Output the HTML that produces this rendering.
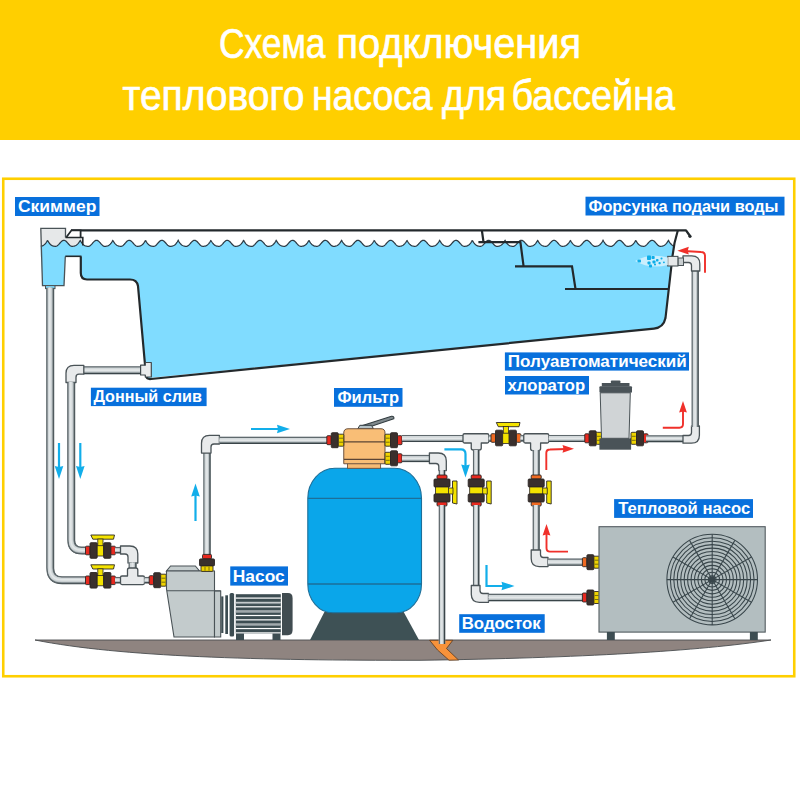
<!DOCTYPE html>
<html><head><meta charset="utf-8"><style>
html,body{margin:0;padding:0;background:#fff;width:800px;height:801px;overflow:hidden}
svg{display:block}
</style></head><body>
<svg width="800" height="801" viewBox="0 0 800 801"><rect x="0" y="0" width="800" height="140" fill="#ffcf00"/>
<text x="219.00" y="57.5" font-family="Liberation Sans" font-size="42" fill="#fff" stroke="#fff" stroke-width="0.7" textLength="106.52" lengthAdjust="spacingAndGlyphs">Схема</text><text x="336.50" y="57.5" font-family="Liberation Sans" font-size="42" fill="#fff" stroke="#fff" stroke-width="0.7" textLength="244.60" lengthAdjust="spacingAndGlyphs">подключения</text><text x="122.50" y="110" font-family="Liberation Sans" font-size="42" fill="#fff" stroke="#fff" stroke-width="0.7" textLength="182.02" lengthAdjust="spacingAndGlyphs">теплового</text><text x="312.00" y="110" font-family="Liberation Sans" font-size="42" fill="#fff" stroke="#fff" stroke-width="0.7" textLength="120.56" lengthAdjust="spacingAndGlyphs">насоса</text><text x="442.00" y="110" font-family="Liberation Sans" font-size="42" fill="#fff" stroke="#fff" stroke-width="0.7" textLength="64.11" lengthAdjust="spacingAndGlyphs">для</text><text x="511.50" y="110" font-family="Liberation Sans" font-size="42" fill="#fff" stroke="#fff" stroke-width="0.7" textLength="163.53" lengthAdjust="spacingAndGlyphs">бассейна</text>
<rect x="3.25" y="178.75" width="791" height="497.5" fill="none" stroke="#ffcf00" stroke-width="2.6"/>
<path d="M35,640 L771,640 C700,651 580,658 420,660.3 C260,660.5 120,657 35,640 Z" fill="#8f8480" stroke="#4a4d4f" stroke-width="0.9"/>
<path d="M40.80,246.23 L41.30,246.15 L41.80,246.03 L42.30,245.87 L42.80,245.65 L43.30,245.38 L43.80,245.05 L44.30,244.65 L44.80,244.19 L45.30,243.65 L45.80,243.03 L46.30,242.33 L46.80,241.55 L47.30,240.68 L47.80,240.85 L48.30,241.70 L48.80,242.47 L49.30,243.15 L49.80,243.76 L50.30,244.28 L50.80,244.73 L51.30,245.12 L51.79,245.44 L52.29,245.70 L52.79,245.90 L53.29,246.06 L53.79,246.17 L54.29,246.24 L54.79,246.28 L55.29,246.30 L55.79,246.30 L56.29,246.21 L56.79,246.02 L57.29,245.74 L57.79,245.36 L58.29,244.90 L58.79,244.39 L59.29,243.83 L59.79,243.26 L60.29,242.69 L60.79,242.14 L61.29,241.63 L61.79,241.18 L62.29,240.82 L62.79,240.54 L63.29,240.37 L63.79,240.30 L64.29,240.34 L64.79,240.50 L65.29,240.75 L65.79,241.10 L66.29,241.53 L66.79,242.03 L67.29,242.57 L67.79,243.14 L68.29,243.72 L68.79,244.28 L69.29,244.80 L69.79,245.27 L70.29,245.66 L70.79,245.97 L71.29,246.18 L71.79,246.29 L72.29,246.30 L72.78,246.29 L73.28,246.25 L73.78,246.19 L74.28,246.08 L74.78,245.94 L75.28,245.74 L75.78,245.49 L76.28,245.19 L76.78,244.82 L77.28,244.38 L77.78,243.87 L78.28,243.28 L78.78,242.62 L79.28,241.87 L79.78,241.03 L80.28,240.49 L80.78,241.38 L81.28,242.18 L81.78,242.90 L82.28,243.53 L82.78,244.08 L83.28,244.56 L83.78,244.97 L84.28,245.32 L84.78,245.60 L85.28,245.83 L85.78,246.00 L86.28,246.13 L86.78,246.22 L87.28,246.27 L87.78,246.29 L88.28,246.30 L88.78,246.26 L89.28,246.11 L89.78,245.86 L90.28,245.51 L90.78,245.09 L91.28,244.59 L91.78,244.05 L92.28,243.48 L92.78,242.91 L93.28,242.35 L93.77,241.82 L94.27,241.35 L94.77,240.95 L95.27,240.64 L95.77,240.42 L96.27,240.31 L96.77,240.31 L97.27,240.42 L97.77,240.64 L98.27,240.96 L98.77,241.36 L99.27,241.83 L99.77,242.36 L100.27,242.92 L100.77,243.49 L101.27,244.06 L101.77,244.60 L102.27,245.09 L102.77,245.52 L103.27,245.86 L103.77,246.11 L104.27,246.26 L104.77,246.30 L105.27,246.29 L105.77,246.27 L106.27,246.22 L106.77,246.13 L107.27,246.00 L107.77,245.83 L108.27,245.60 L108.77,245.31 L109.27,244.97 L109.77,244.56 L110.27,244.08 L110.77,243.52 L111.27,242.89 L111.77,242.17 L112.27,241.37 L112.77,240.48 L113.27,241.04 L113.77,241.88 L114.27,242.63 L114.76,243.29 L115.26,243.88 L115.76,244.39 L116.26,244.82 L116.76,245.19 L117.26,245.50 L117.76,245.75 L118.26,245.94 L118.76,246.09 L119.26,246.19 L119.76,246.25 L120.26,246.29 L120.76,246.30 L121.26,246.29 L121.76,246.18 L122.26,245.97 L122.76,245.66 L123.26,245.26 L123.76,244.79 L124.26,244.27 L124.76,243.71 L125.26,243.13 L125.76,242.56 L126.26,242.02 L126.76,241.53 L127.26,241.10 L127.76,240.75 L128.26,240.49 L128.76,240.34 L129.26,240.30 L129.76,240.37 L130.26,240.54 L130.76,240.82 L131.26,241.19 L131.76,241.64 L132.26,242.14 L132.76,242.69 L133.26,243.27 L133.76,243.84 L134.26,244.39 L134.76,244.91 L135.26,245.36 L135.76,245.74 L136.25,246.03 L136.75,246.22 L137.25,246.30 L137.75,246.30 L138.25,246.28 L138.75,246.24 L139.25,246.17 L139.75,246.06 L140.25,245.90 L140.75,245.69 L141.25,245.43 L141.75,245.11 L142.25,244.73 L142.75,244.27 L143.25,243.75 L143.75,243.14 L144.25,242.46 L144.75,241.69 L145.25,240.84 L145.75,240.69 L146.25,241.56 L146.75,242.34 L147.25,243.04 L147.75,243.66 L148.25,244.19 L148.75,244.66 L149.25,245.06 L149.75,245.39 L150.25,245.66 L150.75,245.87 L151.25,246.03 L151.75,246.15 L152.25,246.23 L152.75,246.28 L153.25,246.30 L153.75,246.30 L154.25,246.24 L154.75,246.07 L155.25,245.79 L155.75,245.43 L156.25,244.98 L156.75,244.48 L157.24,243.93 L157.74,243.36 L158.24,242.78 L158.74,242.23 L159.24,241.71 L159.74,241.26 L160.24,240.87 L160.74,240.58 L161.24,240.39 L161.74,240.30 L162.24,240.33 L162.74,240.46 L163.24,240.70 L163.74,241.04 L164.24,241.45 L164.74,241.94 L165.24,242.48 L165.74,243.04 L166.24,243.62 L166.74,244.18 L167.24,244.71 L167.74,245.19 L168.24,245.60 L168.74,245.93 L169.24,246.16 L169.74,246.28 L170.24,246.30 L170.74,246.29 L171.24,246.26 L171.74,246.20 L172.24,246.10 L172.74,245.97 L173.24,245.78 L173.74,245.54 L174.24,245.24 L174.74,244.89 L175.24,244.46 L175.74,243.96 L176.24,243.39 L176.74,242.74 L177.24,242.00 L177.74,241.18 L178.23,240.33 L178.73,241.23 L179.23,242.05 L179.73,242.78 L180.23,243.43 L180.73,243.99 L181.23,244.49 L181.73,244.91 L182.23,245.26 L182.73,245.56 L183.23,245.79 L183.73,245.98 L184.23,246.11 L184.73,246.21 L185.23,246.26 L185.73,246.29 L186.23,246.30 L186.73,246.27 L187.23,246.14 L187.73,245.91 L188.23,245.58 L188.73,245.17 L189.23,244.68 L189.73,244.15 L190.23,243.58 L190.73,243.01 L191.23,242.44 L191.73,241.91 L192.23,241.43 L192.73,241.01 L193.23,240.69 L193.73,240.45 L194.23,240.32 L194.73,240.31 L195.23,240.40 L195.73,240.60 L196.23,240.90 L196.73,241.28 L197.23,241.74 L197.73,242.26 L198.23,242.82 L198.73,243.39 L199.22,243.96 L199.72,244.51 L200.22,245.01 L200.72,245.45 L201.22,245.81 L201.72,246.08 L202.22,246.24 L202.72,246.30 L203.22,246.30 L203.72,246.27 L204.22,246.23 L204.72,246.15 L205.22,246.03 L205.72,245.86 L206.22,245.64 L206.72,245.37 L207.22,245.03 L207.72,244.63 L208.22,244.16 L208.72,243.62 L209.22,243.00 L209.72,242.30 L210.22,241.51 L210.72,240.64 L211.22,240.89 L211.72,241.74 L212.22,242.50 L212.72,243.18 L213.22,243.78 L213.72,244.30 L214.22,244.75 L214.72,245.13 L215.22,245.45 L215.72,245.71 L216.22,245.91 L216.72,246.06 L217.22,246.17 L217.72,246.24 L218.22,246.28 L218.72,246.30 L219.22,246.30 L219.72,246.21 L220.21,246.01 L220.71,245.72 L221.21,245.34 L221.71,244.88 L222.21,244.36 L222.71,243.81 L223.21,243.23 L223.71,242.66 L224.21,242.11 L224.71,241.61 L225.21,241.17 L225.71,240.80 L226.21,240.53 L226.71,240.36 L227.21,240.30 L227.71,240.35 L228.21,240.51 L228.71,240.77 L229.21,241.12 L229.71,241.55 L230.21,242.05 L230.71,242.60 L231.21,243.17 L231.71,243.74 L232.21,244.30 L232.71,244.82 L233.21,245.29 L233.71,245.68 L234.21,245.99 L234.71,246.19 L235.21,246.29 L235.71,246.30 L236.21,246.29 L236.71,246.25 L237.21,246.18 L237.71,246.08 L238.21,245.93 L238.71,245.73 L239.21,245.48 L239.71,245.17 L240.21,244.80 L240.71,244.36 L241.21,243.84 L241.70,243.25 L242.20,242.58 L242.70,241.83 L243.20,240.99 L243.70,240.53 L244.20,241.42 L244.70,242.22 L245.20,242.93 L245.70,243.56 L246.20,244.11 L246.70,244.58 L247.20,244.99 L247.70,245.33 L248.20,245.61 L248.70,245.84 L249.20,246.01 L249.70,246.14 L250.20,246.22 L250.70,246.27 L251.20,246.29 L251.70,246.30 L252.20,246.26 L252.70,246.10 L253.20,245.85 L253.70,245.50 L254.20,245.07 L254.70,244.57 L255.20,244.03 L255.70,243.46 L256.20,242.88 L256.70,242.32 L257.20,241.80 L257.70,241.33 L258.20,240.93 L258.70,240.63 L259.20,240.42 L259.70,240.31 L260.20,240.32 L260.70,240.43 L261.20,240.65 L261.70,240.97 L262.20,241.38 L262.69,241.85 L263.19,242.38 L263.69,242.94 L264.19,243.52 L264.69,244.09 L265.19,244.62 L265.69,245.11 L266.19,245.54 L266.69,245.88 L267.19,246.12 L267.69,246.27 L268.19,246.30 L268.69,246.29 L269.19,246.27 L269.69,246.21 L270.19,246.12 L270.69,245.99 L271.19,245.82 L271.69,245.59 L272.19,245.30 L272.69,244.95 L273.19,244.54 L273.69,244.05 L274.19,243.49 L274.69,242.86 L275.19,242.14 L275.69,241.33 L276.19,240.44 L276.69,241.08 L277.19,241.91 L277.69,242.66 L278.19,243.32 L278.69,243.90 L279.19,244.41 L279.69,244.84 L280.19,245.21 L280.69,245.51 L281.19,245.76 L281.69,245.95 L282.19,246.09 L282.69,246.19 L283.19,246.25 L283.68,246.29 L284.18,246.30 L284.68,246.29 L285.18,246.17 L285.68,245.96 L286.18,245.64 L286.68,245.24 L287.18,244.77 L287.68,244.24 L288.18,243.68 L288.68,243.11 L289.18,242.54 L289.68,242.00 L290.18,241.51 L290.68,241.08 L291.18,240.74 L291.68,240.49 L292.18,240.34 L292.68,240.30 L293.18,240.37 L293.68,240.56 L294.18,240.84 L294.68,241.21 L295.18,241.66 L295.68,242.17 L296.18,242.72 L296.68,243.29 L297.18,243.87 L297.68,244.42 L298.18,244.93 L298.68,245.38 L299.18,245.75 L299.68,246.04 L300.18,246.22 L300.68,246.30 L301.18,246.30 L301.68,246.28 L302.18,246.24 L302.68,246.16 L303.18,246.05 L303.68,245.89 L304.18,245.68 L304.67,245.42 L305.17,245.10 L305.67,244.71 L306.17,244.25 L306.67,243.72 L307.17,243.11 L307.67,242.43 L308.17,241.66 L308.67,240.80 L309.17,240.73 L309.67,241.60 L310.17,242.38 L310.67,243.07 L311.17,243.68 L311.67,244.22 L312.17,244.68 L312.67,245.07 L313.17,245.40 L313.67,245.67 L314.17,245.88 L314.67,246.04 L315.17,246.16 L315.67,246.23 L316.17,246.28 L316.67,246.30 L317.17,246.30 L317.67,246.23 L318.17,246.05 L318.67,245.78 L319.17,245.41 L319.67,244.96 L320.17,244.45 L320.67,243.90 L321.17,243.33 L321.67,242.76 L322.17,242.20 L322.67,241.69 L323.17,241.24 L323.67,240.86 L324.17,240.57 L324.67,240.38 L325.17,240.30 L325.67,240.33 L326.16,240.47 L326.66,240.72 L327.16,241.05 L327.66,241.47 L328.16,241.96 L328.66,242.50 L329.16,243.07 L329.66,243.64 L330.16,244.21 L330.66,244.74 L331.16,245.21 L331.66,245.62 L332.16,245.94 L332.66,246.16 L333.16,246.28 L333.66,246.30 L334.16,246.29 L334.66,246.26 L335.16,246.20 L335.66,246.10 L336.16,245.96 L336.66,245.77 L337.16,245.53 L337.66,245.23 L338.16,244.87 L338.66,244.44 L339.16,243.94 L339.66,243.36 L340.16,242.71 L340.66,241.97 L341.16,241.14 L341.66,240.37 L342.16,241.27 L342.66,242.08 L343.16,242.81 L343.66,243.45 L344.16,244.02 L344.66,244.51 L345.16,244.93 L345.66,245.28 L346.16,245.57 L346.66,245.80 L347.15,245.98 L347.65,246.12 L348.15,246.21 L348.65,246.26 L349.15,246.29 L349.65,246.30 L350.15,246.27 L350.65,246.14 L351.15,245.90 L351.65,245.56 L352.15,245.14 L352.65,244.66 L353.15,244.12 L353.65,243.56 L354.15,242.98 L354.65,242.42 L355.15,241.89 L355.65,241.41 L356.15,241.00 L356.65,240.67 L357.15,240.44 L357.65,240.32 L358.15,240.31 L358.65,240.40 L359.15,240.61 L359.65,240.91 L360.15,241.30 L360.65,241.77 L361.15,242.29 L361.65,242.84 L362.15,243.42 L362.65,243.99 L363.15,244.53 L363.65,245.03 L364.15,245.47 L364.65,245.83 L365.15,246.09 L365.65,246.25 L366.15,246.30 L366.65,246.30 L367.15,246.27 L367.65,246.22 L368.14,246.14 L368.64,246.02 L369.14,245.85 L369.64,245.63 L370.14,245.35 L370.64,245.02 L371.14,244.61 L371.64,244.14 L372.14,243.60 L372.64,242.97 L373.14,242.27 L373.64,241.48 L374.14,240.60 L374.64,240.93 L375.14,241.78 L375.64,242.54 L376.14,243.21 L376.64,243.81 L377.14,244.32 L377.64,244.77 L378.14,245.15 L378.64,245.46 L379.14,245.72 L379.64,245.92 L380.14,246.07 L380.64,246.18 L381.14,246.25 L381.64,246.28 L382.14,246.30 L382.64,246.29 L383.14,246.20 L383.64,246.00 L384.14,245.70 L384.64,245.32 L385.14,244.86 L385.64,244.34 L386.14,243.78 L386.64,243.21 L387.14,242.64 L387.64,242.09 L388.14,241.59 L388.64,241.15 L389.13,240.79 L389.63,240.52 L390.13,240.36 L390.63,240.30 L391.13,240.35 L391.63,240.52 L392.13,240.78 L392.63,241.14 L393.13,241.58 L393.63,242.08 L394.13,242.62 L394.63,243.19 L395.13,243.77 L395.63,244.33 L396.13,244.84 L396.63,245.31 L397.13,245.70 L397.63,246.00 L398.13,246.20 L398.63,246.29 L399.13,246.30 L399.63,246.28 L400.13,246.25 L400.63,246.18 L401.13,246.07 L401.63,245.92 L402.13,245.72 L402.63,245.47 L403.13,245.16 L403.63,244.78 L404.13,244.34 L404.63,243.82 L405.13,243.23 L405.63,242.55 L406.13,241.80 L406.63,240.95 L407.13,240.58 L407.63,241.46 L408.13,242.25 L408.63,242.96 L409.13,243.58 L409.63,244.13 L410.13,244.60 L410.62,245.01 L411.12,245.35 L411.62,245.63 L412.12,245.85 L412.62,246.02 L413.12,246.14 L413.62,246.22 L414.12,246.27 L414.62,246.30 L415.12,246.30 L415.62,246.25 L416.12,246.09 L416.62,245.83 L417.12,245.48 L417.62,245.04 L418.12,244.55 L418.62,244.00 L419.12,243.43 L419.62,242.86 L420.12,242.30 L420.62,241.78 L421.12,241.31 L421.62,240.92 L422.12,240.61 L422.62,240.41 L423.12,240.31 L423.62,240.32 L424.12,240.44 L424.62,240.67 L425.12,240.99 L425.62,241.40 L426.12,241.87 L426.62,242.41 L427.12,242.97 L427.62,243.54 L428.12,244.11 L428.62,244.65 L429.12,245.13 L429.62,245.55 L430.12,245.89 L430.62,246.13 L431.12,246.27 L431.61,246.30 L432.11,246.29 L432.61,246.27 L433.11,246.21 L433.61,246.12 L434.11,245.99 L434.61,245.81 L435.11,245.58 L435.61,245.29 L436.11,244.94 L436.61,244.52 L437.11,244.03 L437.61,243.47 L438.11,242.83 L438.61,242.10 L439.11,241.29 L439.61,240.39 L440.11,241.12 L440.61,241.95 L441.11,242.69 L441.61,243.35 L442.11,243.93 L442.61,244.43 L443.11,244.86 L443.61,245.22 L444.11,245.52 L444.61,245.77 L445.11,245.96 L445.61,246.10 L446.11,246.20 L446.61,246.26 L447.11,246.29 L447.61,246.30 L448.11,246.28 L448.61,246.17 L449.11,245.95 L449.61,245.63 L450.11,245.22 L450.61,244.75 L451.11,244.22 L451.61,243.66 L452.11,243.08 L452.60,242.51 L453.10,241.97 L453.60,241.49 L454.10,241.06 L454.60,240.72 L455.10,240.48 L455.60,240.33 L456.10,240.30 L456.60,240.38 L457.10,240.57 L457.60,240.85 L458.10,241.23 L458.60,241.68 L459.10,242.19 L459.60,242.75 L460.10,243.32 L460.60,243.89 L461.10,244.44 L461.60,244.95 L462.10,245.40 L462.60,245.77 L463.10,246.05 L463.60,246.23 L464.10,246.30 L464.60,246.30 L465.10,246.28 L465.60,246.24 L466.10,246.16 L466.60,246.04 L467.10,245.88 L467.60,245.67 L468.10,245.41 L468.60,245.08 L469.10,244.69 L469.60,244.23 L470.10,243.70 L470.60,243.09 L471.10,242.39 L471.60,241.62 L472.10,240.76 L472.60,240.78 L473.10,241.64 L473.59,242.41 L474.09,243.10 L474.59,243.71 L475.09,244.24 L475.59,244.70 L476.09,245.09 L476.59,245.41 L477.09,245.68 L477.59,245.89 L478.09,246.05 L478.59,246.16 L479.09,246.24 L479.59,246.28 L480.09,246.30 L480.59,246.30 L481.09,246.23 L481.59,246.04 L482.09,245.76 L482.59,245.39 L483.09,244.94 L483.59,244.43 L484.09,243.88 L484.59,243.31 L485.09,242.73 L485.59,242.18 L486.09,241.67 L486.59,241.22 L487.09,240.84 L487.59,240.56 L488.09,240.38 L488.59,240.30 L489.09,240.34 L489.59,240.48 L490.09,240.73 L490.59,241.07 L491.09,241.50 L491.59,241.99 L492.09,242.53 L492.59,243.09 L493.09,243.67 L493.59,244.23 L494.09,244.76 L494.59,245.23 L495.08,245.64 L495.58,245.95 L496.08,246.17 L496.58,246.28 L497.08,246.30 L497.58,246.29 L498.08,246.26 L498.58,246.19 L499.08,246.09 L499.58,245.95 L500.08,245.76 L500.58,245.52 L501.08,245.22 L501.58,244.85 L502.08,244.42 L502.58,243.91 L503.08,243.33 L503.58,242.67 L504.08,241.93 L504.58,241.10 L505.08,240.41 L505.58,241.31 L506.08,242.12 L506.58,242.84 L507.08,243.48 L507.58,244.04 L508.08,244.53 L508.58,244.94 L509.08,245.29 L509.58,245.58 L510.08,245.81 L510.58,245.99 L511.08,246.12 L511.58,246.21 L512.08,246.27 L512.58,246.29 L513.08,246.30 L513.58,246.27 L514.08,246.13 L514.58,245.88 L515.08,245.55 L515.58,245.12 L516.07,244.64 L516.57,244.10 L517.07,243.53 L517.57,242.96 L518.07,242.39 L518.57,241.86 L519.07,241.39 L519.57,240.98 L520.07,240.66 L520.57,240.44 L521.07,240.32 L521.57,240.31 L522.07,240.41 L522.57,240.62 L523.07,240.93 L523.57,241.32 L524.07,241.79 L524.57,242.31 L525.07,242.87 L525.57,243.44 L526.07,244.01 L526.57,244.56 L527.07,245.05 L527.57,245.49 L528.07,245.84 L528.57,246.10 L529.07,246.25 L529.57,246.30 L530.07,246.29 L530.57,246.27 L531.07,246.22 L531.57,246.14 L532.07,246.01 L532.57,245.84 L533.07,245.62 L533.57,245.34 L534.07,245.00 L534.57,244.59 L535.07,244.12 L535.57,243.57 L536.07,242.94 L536.57,242.23 L537.06,241.44 L537.56,240.56 L538.06,240.97 L538.56,241.81 L539.06,242.57 L539.56,243.24 L540.06,243.83 L540.56,244.35 L541.06,244.79 L541.56,245.16 L542.06,245.48 L542.56,245.73 L543.06,245.93 L543.56,246.08 L544.06,246.18 L544.56,246.25 L545.06,246.29 L545.56,246.30 L546.06,246.29 L546.56,246.19 L547.06,245.99 L547.56,245.69 L548.06,245.30 L548.56,244.83 L549.06,244.31 L549.56,243.76 L550.06,243.18 L550.56,242.61 L551.06,242.07 L551.56,241.57 L552.06,241.13 L552.56,240.77 L553.06,240.51 L553.56,240.35 L554.06,240.30 L554.56,240.36 L555.06,240.53 L555.56,240.80 L556.06,241.16 L556.56,241.60 L557.06,242.10 L557.56,242.65 L558.05,243.22 L558.55,243.79 L559.05,244.35 L559.55,244.87 L560.05,245.33 L560.55,245.71 L561.05,246.01 L561.55,246.20 L562.05,246.29 L562.55,246.30 L563.05,246.28 L563.55,246.25 L564.05,246.18 L564.55,246.07 L565.05,245.91 L565.55,245.71 L566.05,245.46 L566.55,245.14 L567.05,244.76 L567.55,244.31 L568.05,243.79 L568.55,243.20 L569.05,242.52 L569.55,241.76 L570.05,240.91 L570.55,240.62 L571.05,241.49 L571.55,242.28 L572.05,242.99 L572.55,243.61 L573.05,244.15 L573.55,244.62 L574.05,245.03 L574.55,245.36 L575.05,245.64 L575.55,245.86 L576.05,246.02 L576.55,246.14 L577.05,246.23 L577.55,246.27 L578.05,246.30 L578.55,246.30 L579.04,246.25 L579.54,246.08 L580.04,245.82 L580.54,245.46 L581.04,245.02 L581.54,244.52 L582.04,243.98 L582.54,243.41 L583.04,242.83 L583.54,242.27 L584.04,241.75 L584.54,241.29 L585.04,240.90 L585.54,240.60 L586.04,240.40 L586.54,240.31 L587.04,240.32 L587.54,240.45 L588.04,240.68 L588.54,241.01 L589.04,241.42 L589.54,241.90 L590.04,242.43 L590.54,242.99 L591.04,243.57 L591.54,244.14 L592.04,244.67 L592.54,245.15 L593.04,245.57 L593.54,245.90 L594.04,246.14 L594.54,246.27 L595.04,246.30 L595.54,246.29 L596.04,246.26 L596.54,246.21 L597.04,246.11 L597.54,245.98 L598.04,245.80 L598.54,245.56 L599.04,245.27 L599.54,244.92 L600.04,244.50 L600.53,244.01 L601.03,243.44 L601.53,242.79 L602.03,242.07 L602.53,241.25 L603.03,240.35 L603.53,241.16 L604.03,241.99 L604.53,242.72 L605.03,243.38 L605.53,243.95 L606.03,244.45 L606.53,244.88 L607.03,245.24 L607.53,245.54 L608.03,245.78 L608.53,245.96 L609.03,246.10 L609.53,246.20 L610.03,246.26 L610.53,246.29 L611.03,246.30 L611.53,246.28 L612.03,246.16 L612.53,245.93 L613.03,245.61 L613.53,245.20 L614.03,244.72 L614.53,244.19 L615.03,243.63 L615.53,243.05 L616.03,242.49 L616.53,241.95 L617.03,241.46 L617.53,241.05 L618.03,240.71 L618.53,240.47 L619.03,240.33 L619.53,240.30 L620.03,240.39 L620.53,240.58 L621.03,240.87 L621.52,241.25 L622.02,241.70 L622.52,242.22 L623.02,242.77 L623.52,243.34 L624.02,243.92 L624.52,244.47 L625.02,244.97 L625.52,245.42 L626.02,245.78 L626.52,246.06 L627.02,246.23 L627.52,246.30 L628.02,246.30 L628.52,246.28 L629.02,246.23 L629.52,246.16 L630.02,246.04 L630.52,245.88 L631.02,245.66 L631.52,245.39 L632.02,245.06 L632.52,244.67 L633.02,244.21 L633.52,243.67 L634.02,243.06 L634.52,242.36 L635.02,241.58 L635.52,240.71 L636.02,240.82 L636.52,241.67 L637.02,242.44 L637.52,243.13 L638.02,243.73 L638.52,244.26 L639.02,244.72 L639.52,245.10 L640.02,245.43 L640.52,245.69 L641.02,245.90 L641.52,246.05 L642.02,246.17 L642.51,246.24 L643.01,246.28 L643.51,246.30 L644.01,246.30 L644.51,246.22 L645.01,246.03 L645.51,245.75 L646.01,245.37 L646.51,244.92 L647.01,244.41 L647.51,243.85 L648.01,243.28 L648.51,242.71 L649.01,242.16 L649.51,241.65 L650.01,241.20 L650.51,240.83 L651.01,240.55 L651.51,240.37 L652.01,240.30 L652.51,240.34 L653.01,240.49 L653.51,240.74 L654.01,241.09 L654.51,241.52 L655.01,242.01 L655.51,242.55 L656.01,243.12 L656.51,243.69 L657.01,244.26 L657.51,244.78 L658.01,245.25 L658.51,245.65 L659.01,245.96 L659.51,246.18 L660.01,246.29 L660.51,246.30 L661.01,246.29 L661.51,246.25 L662.01,246.19 L662.51,246.09 L663.01,245.94 L663.50,245.75 L664.00,245.51 L664.50,245.20 L665.00,244.83 L665.50,244.40 L666.00,243.89 L666.50,243.31 L667.00,242.64 L667.50,241.90 L668.00,241.06 L668.50,240.46 L669.00,241.35 L669.50,242.15 L670.00,242.87 L670.50,243.51 L671.00,244.06 L671.50,244.55 L672.00,244.96 L672.50,245.31 L673.00,245.59 L673.50,245.82 L674.00,246.00 L673.8,247 L672.3,258 L665.5,318 Q663.5,327.5 654,328.6 L146,378.3 L138,286 Q137,279.5 130,279.5 L86,279.5 Q80.5,279.5 80.5,273 L80.8,256.3 L65.3,256.3 L64,285.6 L42.5,285.6 L40.8,246 Z" fill="#80dcff"/>
<path d="M40.8,228.3 L65.5,228.3 L65.5,237.5 L83,237.5 L83,250 L40.8,250 Z" fill="#e6e8e9"/>
<path d="M40.80,246.23 L41.30,246.15 L41.79,246.03 L42.29,245.87 L42.79,245.66 L43.28,245.39 L43.78,245.06 L44.28,244.67 L44.77,244.21 L45.27,243.68 L45.77,243.07 L46.26,242.39 L46.76,241.62 L47.25,240.76 L47.75,240.77 L48.25,241.63 L48.74,242.40 L49.24,243.08 L49.74,243.69 L50.23,244.22 L50.73,244.68 L51.23,245.07 L51.72,245.40 L52.22,245.66 L52.72,245.87 L53.21,246.04 L53.71,246.15 L54.21,246.23 L54.70,246.28 L55.20,246.30 L55.70,246.30 L56.19,246.24 L56.69,246.07 L57.18,245.81 L57.68,245.45 L58.18,245.01 L58.67,244.51 L59.17,243.97 L59.67,243.40 L60.16,242.83 L60.66,242.28 L61.16,241.76 L61.65,241.30 L62.15,240.91 L62.65,240.61 L63.14,240.41 L63.64,240.31 L64.14,240.32 L64.63,240.44 L65.13,240.66 L65.63,240.98 L66.12,241.38 L66.62,241.86 L67.12,242.38 L67.61,242.94 L68.11,243.51 L68.60,244.08 L69.10,244.61 L69.60,245.10 L70.09,245.52 L70.59,245.86 L71.09,246.11 L71.58,246.26 L72.08,246.30 L72.58,246.29 L73.07,246.27 L73.57,246.22 L74.07,246.13 L74.56,246.01 L75.06,245.84 L75.56,245.62 L76.05,245.34 L76.55,245.00 L77.05,244.60 L77.54,244.12 L78.04,243.58 L78.53,242.96 L79.03,242.25 L79.53,241.47 L80.02,240.59 L80.52,240.93 L81.02,241.77 L81.51,242.53 L82.01,243.20 L82.51,243.79 L83.00,244.31 L83.50,244.75 L83.5,257 L40.8,257 Z" fill="#80dcff"/>
<polyline points="40.80,246.23 41.30,246.15 41.80,246.03 42.30,245.87 42.80,245.65 43.30,245.38 43.80,245.05 44.30,244.65 44.80,244.19 45.30,243.65 45.80,243.03 46.30,242.33 46.80,241.55 47.30,240.68 47.80,240.85 48.30,241.70 48.80,242.47 49.30,243.15 49.80,243.76 50.30,244.28 50.80,244.73 51.30,245.12 51.79,245.44 52.29,245.70 52.79,245.90 53.29,246.06 53.79,246.17 54.29,246.24 54.79,246.28 55.29,246.30 55.79,246.30 56.29,246.21 56.79,246.02 57.29,245.74 57.79,245.36 58.29,244.90 58.79,244.39 59.29,243.83 59.79,243.26 60.29,242.69 60.79,242.14 61.29,241.63 61.79,241.18 62.29,240.82 62.79,240.54 63.29,240.37 63.79,240.30 64.29,240.34 64.79,240.50 65.29,240.75 65.79,241.10 66.29,241.53 66.79,242.03 67.29,242.57 67.79,243.14 68.29,243.72 68.79,244.28 69.29,244.80 69.79,245.27 70.29,245.66 70.79,245.97 71.29,246.18 71.79,246.29 72.29,246.30 72.78,246.29 73.28,246.25 73.78,246.19 74.28,246.08 74.78,245.94 75.28,245.74 75.78,245.49 76.28,245.19 76.78,244.82 77.28,244.38 77.78,243.87 78.28,243.28 78.78,242.62 79.28,241.87 79.78,241.03 80.28,240.49 80.78,241.38 81.28,242.18 81.78,242.90 82.28,243.53 82.78,244.08 83.28,244.56 83.78,244.97 84.28,245.32 84.78,245.60 85.28,245.83 85.78,246.00 86.28,246.13 86.78,246.22 87.28,246.27 87.78,246.29 88.28,246.30 88.78,246.26 89.28,246.11 89.78,245.86 90.28,245.51 90.78,245.09 91.28,244.59 91.78,244.05 92.28,243.48 92.78,242.91 93.28,242.35 93.77,241.82 94.27,241.35 94.77,240.95 95.27,240.64 95.77,240.42 96.27,240.31 96.77,240.31 97.27,240.42 97.77,240.64 98.27,240.96 98.77,241.36 99.27,241.83 99.77,242.36 100.27,242.92 100.77,243.49 101.27,244.06 101.77,244.60 102.27,245.09 102.77,245.52 103.27,245.86 103.77,246.11 104.27,246.26 104.77,246.30 105.27,246.29 105.77,246.27 106.27,246.22 106.77,246.13 107.27,246.00 107.77,245.83 108.27,245.60 108.77,245.31 109.27,244.97 109.77,244.56 110.27,244.08 110.77,243.52 111.27,242.89 111.77,242.17 112.27,241.37 112.77,240.48 113.27,241.04 113.77,241.88 114.27,242.63 114.76,243.29 115.26,243.88 115.76,244.39 116.26,244.82 116.76,245.19 117.26,245.50 117.76,245.75 118.26,245.94 118.76,246.09 119.26,246.19 119.76,246.25 120.26,246.29 120.76,246.30 121.26,246.29 121.76,246.18 122.26,245.97 122.76,245.66 123.26,245.26 123.76,244.79 124.26,244.27 124.76,243.71 125.26,243.13 125.76,242.56 126.26,242.02 126.76,241.53 127.26,241.10 127.76,240.75 128.26,240.49 128.76,240.34 129.26,240.30 129.76,240.37 130.26,240.54 130.76,240.82 131.26,241.19 131.76,241.64 132.26,242.14 132.76,242.69 133.26,243.27 133.76,243.84 134.26,244.39 134.76,244.91 135.26,245.36 135.76,245.74 136.25,246.03 136.75,246.22 137.25,246.30 137.75,246.30 138.25,246.28 138.75,246.24 139.25,246.17 139.75,246.06 140.25,245.90 140.75,245.69 141.25,245.43 141.75,245.11 142.25,244.73 142.75,244.27 143.25,243.75 143.75,243.14 144.25,242.46 144.75,241.69 145.25,240.84 145.75,240.69 146.25,241.56 146.75,242.34 147.25,243.04 147.75,243.66 148.25,244.19 148.75,244.66 149.25,245.06 149.75,245.39 150.25,245.66 150.75,245.87 151.25,246.03 151.75,246.15 152.25,246.23 152.75,246.28 153.25,246.30 153.75,246.30 154.25,246.24 154.75,246.07 155.25,245.79 155.75,245.43 156.25,244.98 156.75,244.48 157.24,243.93 157.74,243.36 158.24,242.78 158.74,242.23 159.24,241.71 159.74,241.26 160.24,240.87 160.74,240.58 161.24,240.39 161.74,240.30 162.24,240.33 162.74,240.46 163.24,240.70 163.74,241.04 164.24,241.45 164.74,241.94 165.24,242.48 165.74,243.04 166.24,243.62 166.74,244.18 167.24,244.71 167.74,245.19 168.24,245.60 168.74,245.93 169.24,246.16 169.74,246.28 170.24,246.30 170.74,246.29 171.24,246.26 171.74,246.20 172.24,246.10 172.74,245.97 173.24,245.78 173.74,245.54 174.24,245.24 174.74,244.89 175.24,244.46 175.74,243.96 176.24,243.39 176.74,242.74 177.24,242.00 177.74,241.18 178.23,240.33 178.73,241.23 179.23,242.05 179.73,242.78 180.23,243.43 180.73,243.99 181.23,244.49 181.73,244.91 182.23,245.26 182.73,245.56 183.23,245.79 183.73,245.98 184.23,246.11 184.73,246.21 185.23,246.26 185.73,246.29 186.23,246.30 186.73,246.27 187.23,246.14 187.73,245.91 188.23,245.58 188.73,245.17 189.23,244.68 189.73,244.15 190.23,243.58 190.73,243.01 191.23,242.44 191.73,241.91 192.23,241.43 192.73,241.01 193.23,240.69 193.73,240.45 194.23,240.32 194.73,240.31 195.23,240.40 195.73,240.60 196.23,240.90 196.73,241.28 197.23,241.74 197.73,242.26 198.23,242.82 198.73,243.39 199.22,243.96 199.72,244.51 200.22,245.01 200.72,245.45 201.22,245.81 201.72,246.08 202.22,246.24 202.72,246.30 203.22,246.30 203.72,246.27 204.22,246.23 204.72,246.15 205.22,246.03 205.72,245.86 206.22,245.64 206.72,245.37 207.22,245.03 207.72,244.63 208.22,244.16 208.72,243.62 209.22,243.00 209.72,242.30 210.22,241.51 210.72,240.64 211.22,240.89 211.72,241.74 212.22,242.50 212.72,243.18 213.22,243.78 213.72,244.30 214.22,244.75 214.72,245.13 215.22,245.45 215.72,245.71 216.22,245.91 216.72,246.06 217.22,246.17 217.72,246.24 218.22,246.28 218.72,246.30 219.22,246.30 219.72,246.21 220.21,246.01 220.71,245.72 221.21,245.34 221.71,244.88 222.21,244.36 222.71,243.81 223.21,243.23 223.71,242.66 224.21,242.11 224.71,241.61 225.21,241.17 225.71,240.80 226.21,240.53 226.71,240.36 227.21,240.30 227.71,240.35 228.21,240.51 228.71,240.77 229.21,241.12 229.71,241.55 230.21,242.05 230.71,242.60 231.21,243.17 231.71,243.74 232.21,244.30 232.71,244.82 233.21,245.29 233.71,245.68 234.21,245.99 234.71,246.19 235.21,246.29 235.71,246.30 236.21,246.29 236.71,246.25 237.21,246.18 237.71,246.08 238.21,245.93 238.71,245.73 239.21,245.48 239.71,245.17 240.21,244.80 240.71,244.36 241.21,243.84 241.70,243.25 242.20,242.58 242.70,241.83 243.20,240.99 243.70,240.53 244.20,241.42 244.70,242.22 245.20,242.93 245.70,243.56 246.20,244.11 246.70,244.58 247.20,244.99 247.70,245.33 248.20,245.61 248.70,245.84 249.20,246.01 249.70,246.14 250.20,246.22 250.70,246.27 251.20,246.29 251.70,246.30 252.20,246.26 252.70,246.10 253.20,245.85 253.70,245.50 254.20,245.07 254.70,244.57 255.20,244.03 255.70,243.46 256.20,242.88 256.70,242.32 257.20,241.80 257.70,241.33 258.20,240.93 258.70,240.63 259.20,240.42 259.70,240.31 260.20,240.32 260.70,240.43 261.20,240.65 261.70,240.97 262.20,241.38 262.69,241.85 263.19,242.38 263.69,242.94 264.19,243.52 264.69,244.09 265.19,244.62 265.69,245.11 266.19,245.54 266.69,245.88 267.19,246.12 267.69,246.27 268.19,246.30 268.69,246.29 269.19,246.27 269.69,246.21 270.19,246.12 270.69,245.99 271.19,245.82 271.69,245.59 272.19,245.30 272.69,244.95 273.19,244.54 273.69,244.05 274.19,243.49 274.69,242.86 275.19,242.14 275.69,241.33 276.19,240.44 276.69,241.08 277.19,241.91 277.69,242.66 278.19,243.32 278.69,243.90 279.19,244.41 279.69,244.84 280.19,245.21 280.69,245.51 281.19,245.76 281.69,245.95 282.19,246.09 282.69,246.19 283.19,246.25 283.68,246.29 284.18,246.30 284.68,246.29 285.18,246.17 285.68,245.96 286.18,245.64 286.68,245.24 287.18,244.77 287.68,244.24 288.18,243.68 288.68,243.11 289.18,242.54 289.68,242.00 290.18,241.51 290.68,241.08 291.18,240.74 291.68,240.49 292.18,240.34 292.68,240.30 293.18,240.37 293.68,240.56 294.18,240.84 294.68,241.21 295.18,241.66 295.68,242.17 296.18,242.72 296.68,243.29 297.18,243.87 297.68,244.42 298.18,244.93 298.68,245.38 299.18,245.75 299.68,246.04 300.18,246.22 300.68,246.30 301.18,246.30 301.68,246.28 302.18,246.24 302.68,246.16 303.18,246.05 303.68,245.89 304.18,245.68 304.67,245.42 305.17,245.10 305.67,244.71 306.17,244.25 306.67,243.72 307.17,243.11 307.67,242.43 308.17,241.66 308.67,240.80 309.17,240.73 309.67,241.60 310.17,242.38 310.67,243.07 311.17,243.68 311.67,244.22 312.17,244.68 312.67,245.07 313.17,245.40 313.67,245.67 314.17,245.88 314.67,246.04 315.17,246.16 315.67,246.23 316.17,246.28 316.67,246.30 317.17,246.30 317.67,246.23 318.17,246.05 318.67,245.78 319.17,245.41 319.67,244.96 320.17,244.45 320.67,243.90 321.17,243.33 321.67,242.76 322.17,242.20 322.67,241.69 323.17,241.24 323.67,240.86 324.17,240.57 324.67,240.38 325.17,240.30 325.67,240.33 326.16,240.47 326.66,240.72 327.16,241.05 327.66,241.47 328.16,241.96 328.66,242.50 329.16,243.07 329.66,243.64 330.16,244.21 330.66,244.74 331.16,245.21 331.66,245.62 332.16,245.94 332.66,246.16 333.16,246.28 333.66,246.30 334.16,246.29 334.66,246.26 335.16,246.20 335.66,246.10 336.16,245.96 336.66,245.77 337.16,245.53 337.66,245.23 338.16,244.87 338.66,244.44 339.16,243.94 339.66,243.36 340.16,242.71 340.66,241.97 341.16,241.14 341.66,240.37 342.16,241.27 342.66,242.08 343.16,242.81 343.66,243.45 344.16,244.02 344.66,244.51 345.16,244.93 345.66,245.28 346.16,245.57 346.66,245.80 347.15,245.98 347.65,246.12 348.15,246.21 348.65,246.26 349.15,246.29 349.65,246.30 350.15,246.27 350.65,246.14 351.15,245.90 351.65,245.56 352.15,245.14 352.65,244.66 353.15,244.12 353.65,243.56 354.15,242.98 354.65,242.42 355.15,241.89 355.65,241.41 356.15,241.00 356.65,240.67 357.15,240.44 357.65,240.32 358.15,240.31 358.65,240.40 359.15,240.61 359.65,240.91 360.15,241.30 360.65,241.77 361.15,242.29 361.65,242.84 362.15,243.42 362.65,243.99 363.15,244.53 363.65,245.03 364.15,245.47 364.65,245.83 365.15,246.09 365.65,246.25 366.15,246.30 366.65,246.30 367.15,246.27 367.65,246.22 368.14,246.14 368.64,246.02 369.14,245.85 369.64,245.63 370.14,245.35 370.64,245.02 371.14,244.61 371.64,244.14 372.14,243.60 372.64,242.97 373.14,242.27 373.64,241.48 374.14,240.60 374.64,240.93 375.14,241.78 375.64,242.54 376.14,243.21 376.64,243.81 377.14,244.32 377.64,244.77 378.14,245.15 378.64,245.46 379.14,245.72 379.64,245.92 380.14,246.07 380.64,246.18 381.14,246.25 381.64,246.28 382.14,246.30 382.64,246.29 383.14,246.20 383.64,246.00 384.14,245.70 384.64,245.32 385.14,244.86 385.64,244.34 386.14,243.78 386.64,243.21 387.14,242.64 387.64,242.09 388.14,241.59 388.64,241.15 389.13,240.79 389.63,240.52 390.13,240.36 390.63,240.30 391.13,240.35 391.63,240.52 392.13,240.78 392.63,241.14 393.13,241.58 393.63,242.08 394.13,242.62 394.63,243.19 395.13,243.77 395.63,244.33 396.13,244.84 396.63,245.31 397.13,245.70 397.63,246.00 398.13,246.20 398.63,246.29 399.13,246.30 399.63,246.28 400.13,246.25 400.63,246.18 401.13,246.07 401.63,245.92 402.13,245.72 402.63,245.47 403.13,245.16 403.63,244.78 404.13,244.34 404.63,243.82 405.13,243.23 405.63,242.55 406.13,241.80 406.63,240.95 407.13,240.58 407.63,241.46 408.13,242.25 408.63,242.96 409.13,243.58 409.63,244.13 410.13,244.60 410.62,245.01 411.12,245.35 411.62,245.63 412.12,245.85 412.62,246.02 413.12,246.14 413.62,246.22 414.12,246.27 414.62,246.30 415.12,246.30 415.62,246.25 416.12,246.09 416.62,245.83 417.12,245.48 417.62,245.04 418.12,244.55 418.62,244.00 419.12,243.43 419.62,242.86 420.12,242.30 420.62,241.78 421.12,241.31 421.62,240.92 422.12,240.61 422.62,240.41 423.12,240.31 423.62,240.32 424.12,240.44 424.62,240.67 425.12,240.99 425.62,241.40 426.12,241.87 426.62,242.41 427.12,242.97 427.62,243.54 428.12,244.11 428.62,244.65 429.12,245.13 429.62,245.55 430.12,245.89 430.62,246.13 431.12,246.27 431.61,246.30 432.11,246.29 432.61,246.27 433.11,246.21 433.61,246.12 434.11,245.99 434.61,245.81 435.11,245.58 435.61,245.29 436.11,244.94 436.61,244.52 437.11,244.03 437.61,243.47 438.11,242.83 438.61,242.10 439.11,241.29 439.61,240.39 440.11,241.12 440.61,241.95 441.11,242.69 441.61,243.35 442.11,243.93 442.61,244.43 443.11,244.86 443.61,245.22 444.11,245.52 444.61,245.77 445.11,245.96 445.61,246.10 446.11,246.20 446.61,246.26 447.11,246.29 447.61,246.30 448.11,246.28 448.61,246.17 449.11,245.95 449.61,245.63 450.11,245.22 450.61,244.75 451.11,244.22 451.61,243.66 452.11,243.08 452.60,242.51 453.10,241.97 453.60,241.49 454.10,241.06 454.60,240.72 455.10,240.48 455.60,240.33 456.10,240.30 456.60,240.38 457.10,240.57 457.60,240.85 458.10,241.23 458.60,241.68 459.10,242.19 459.60,242.75 460.10,243.32 460.60,243.89 461.10,244.44 461.60,244.95 462.10,245.40 462.60,245.77 463.10,246.05 463.60,246.23 464.10,246.30 464.60,246.30 465.10,246.28 465.60,246.24 466.10,246.16 466.60,246.04 467.10,245.88 467.60,245.67 468.10,245.41 468.60,245.08 469.10,244.69 469.60,244.23 470.10,243.70 470.60,243.09 471.10,242.39 471.60,241.62 472.10,240.76 472.60,240.78 473.10,241.64 473.59,242.41 474.09,243.10 474.59,243.71 475.09,244.24 475.59,244.70 476.09,245.09 476.59,245.41 477.09,245.68 477.59,245.89 478.09,246.05 478.59,246.16 479.09,246.24 479.59,246.28 480.09,246.30 480.59,246.30 481.09,246.23 481.59,246.04 482.09,245.76 482.59,245.39 483.09,244.94 483.59,244.43 484.09,243.88 484.59,243.31 485.09,242.73 485.59,242.18 486.09,241.67 486.59,241.22 487.09,240.84 487.59,240.56 488.09,240.38 488.59,240.30 489.09,240.34 489.59,240.48 490.09,240.73 490.59,241.07 491.09,241.50 491.59,241.99 492.09,242.53 492.59,243.09 493.09,243.67 493.59,244.23 494.09,244.76 494.59,245.23 495.08,245.64 495.58,245.95 496.08,246.17 496.58,246.28 497.08,246.30 497.58,246.29 498.08,246.26 498.58,246.19 499.08,246.09 499.58,245.95 500.08,245.76 500.58,245.52 501.08,245.22 501.58,244.85 502.08,244.42 502.58,243.91 503.08,243.33 503.58,242.67 504.08,241.93 504.58,241.10 505.08,240.41 505.58,241.31 506.08,242.12 506.58,242.84 507.08,243.48 507.58,244.04 508.08,244.53 508.58,244.94 509.08,245.29 509.58,245.58 510.08,245.81 510.58,245.99 511.08,246.12 511.58,246.21 512.08,246.27 512.58,246.29 513.08,246.30 513.58,246.27 514.08,246.13 514.58,245.88 515.08,245.55 515.58,245.12 516.07,244.64 516.57,244.10 517.07,243.53 517.57,242.96 518.07,242.39 518.57,241.86 519.07,241.39 519.57,240.98 520.07,240.66 520.57,240.44 521.07,240.32 521.57,240.31 522.07,240.41 522.57,240.62 523.07,240.93 523.57,241.32 524.07,241.79 524.57,242.31 525.07,242.87 525.57,243.44 526.07,244.01 526.57,244.56 527.07,245.05 527.57,245.49 528.07,245.84 528.57,246.10 529.07,246.25 529.57,246.30 530.07,246.29 530.57,246.27 531.07,246.22 531.57,246.14 532.07,246.01 532.57,245.84 533.07,245.62 533.57,245.34 534.07,245.00 534.57,244.59 535.07,244.12 535.57,243.57 536.07,242.94 536.57,242.23 537.06,241.44 537.56,240.56 538.06,240.97 538.56,241.81 539.06,242.57 539.56,243.24 540.06,243.83 540.56,244.35 541.06,244.79 541.56,245.16 542.06,245.48 542.56,245.73 543.06,245.93 543.56,246.08 544.06,246.18 544.56,246.25 545.06,246.29 545.56,246.30 546.06,246.29 546.56,246.19 547.06,245.99 547.56,245.69 548.06,245.30 548.56,244.83 549.06,244.31 549.56,243.76 550.06,243.18 550.56,242.61 551.06,242.07 551.56,241.57 552.06,241.13 552.56,240.77 553.06,240.51 553.56,240.35 554.06,240.30 554.56,240.36 555.06,240.53 555.56,240.80 556.06,241.16 556.56,241.60 557.06,242.10 557.56,242.65 558.05,243.22 558.55,243.79 559.05,244.35 559.55,244.87 560.05,245.33 560.55,245.71 561.05,246.01 561.55,246.20 562.05,246.29 562.55,246.30 563.05,246.28 563.55,246.25 564.05,246.18 564.55,246.07 565.05,245.91 565.55,245.71 566.05,245.46 566.55,245.14 567.05,244.76 567.55,244.31 568.05,243.79 568.55,243.20 569.05,242.52 569.55,241.76 570.05,240.91 570.55,240.62 571.05,241.49 571.55,242.28 572.05,242.99 572.55,243.61 573.05,244.15 573.55,244.62 574.05,245.03 574.55,245.36 575.05,245.64 575.55,245.86 576.05,246.02 576.55,246.14 577.05,246.23 577.55,246.27 578.05,246.30 578.55,246.30 579.04,246.25 579.54,246.08 580.04,245.82 580.54,245.46 581.04,245.02 581.54,244.52 582.04,243.98 582.54,243.41 583.04,242.83 583.54,242.27 584.04,241.75 584.54,241.29 585.04,240.90 585.54,240.60 586.04,240.40 586.54,240.31 587.04,240.32 587.54,240.45 588.04,240.68 588.54,241.01 589.04,241.42 589.54,241.90 590.04,242.43 590.54,242.99 591.04,243.57 591.54,244.14 592.04,244.67 592.54,245.15 593.04,245.57 593.54,245.90 594.04,246.14 594.54,246.27 595.04,246.30 595.54,246.29 596.04,246.26 596.54,246.21 597.04,246.11 597.54,245.98 598.04,245.80 598.54,245.56 599.04,245.27 599.54,244.92 600.04,244.50 600.53,244.01 601.03,243.44 601.53,242.79 602.03,242.07 602.53,241.25 603.03,240.35 603.53,241.16 604.03,241.99 604.53,242.72 605.03,243.38 605.53,243.95 606.03,244.45 606.53,244.88 607.03,245.24 607.53,245.54 608.03,245.78 608.53,245.96 609.03,246.10 609.53,246.20 610.03,246.26 610.53,246.29 611.03,246.30 611.53,246.28 612.03,246.16 612.53,245.93 613.03,245.61 613.53,245.20 614.03,244.72 614.53,244.19 615.03,243.63 615.53,243.05 616.03,242.49 616.53,241.95 617.03,241.46 617.53,241.05 618.03,240.71 618.53,240.47 619.03,240.33 619.53,240.30 620.03,240.39 620.53,240.58 621.03,240.87 621.52,241.25 622.02,241.70 622.52,242.22 623.02,242.77 623.52,243.34 624.02,243.92 624.52,244.47 625.02,244.97 625.52,245.42 626.02,245.78 626.52,246.06 627.02,246.23 627.52,246.30 628.02,246.30 628.52,246.28 629.02,246.23 629.52,246.16 630.02,246.04 630.52,245.88 631.02,245.66 631.52,245.39 632.02,245.06 632.52,244.67 633.02,244.21 633.52,243.67 634.02,243.06 634.52,242.36 635.02,241.58 635.52,240.71 636.02,240.82 636.52,241.67 637.02,242.44 637.52,243.13 638.02,243.73 638.52,244.26 639.02,244.72 639.52,245.10 640.02,245.43 640.52,245.69 641.02,245.90 641.52,246.05 642.02,246.17 642.51,246.24 643.01,246.28 643.51,246.30 644.01,246.30 644.51,246.22 645.01,246.03 645.51,245.75 646.01,245.37 646.51,244.92 647.01,244.41 647.51,243.85 648.01,243.28 648.51,242.71 649.01,242.16 649.51,241.65 650.01,241.20 650.51,240.83 651.01,240.55 651.51,240.37 652.01,240.30 652.51,240.34 653.01,240.49 653.51,240.74 654.01,241.09 654.51,241.52 655.01,242.01 655.51,242.55 656.01,243.12 656.51,243.69 657.01,244.26 657.51,244.78 658.01,245.25 658.51,245.65 659.01,245.96 659.51,246.18 660.01,246.29 660.51,246.30 661.01,246.29 661.51,246.25 662.01,246.19 662.51,246.09 663.01,245.94 663.50,245.75 664.00,245.51 664.50,245.20 665.00,244.83 665.50,244.40 666.00,243.89 666.50,243.31 667.00,242.64 667.50,241.90 668.00,241.06 668.50,240.46 669.00,241.35 669.50,242.15 670.00,242.87 670.50,243.51 671.00,244.06 671.50,244.55 672.00,244.96 672.50,245.31 673.00,245.59 673.50,245.82 674.00,246.00" fill="none" stroke="#2c3a44" stroke-width="1.25"/>
<path d="M65.5,237.5 L65.5,228.3 L40.8,228.3 L42.5,285.6 L64,285.6 L65.3,256.5" fill="none" stroke="#4a5357" stroke-width="1.3"/>
<rect x="45.5" y="285.6" width="9.5" height="3" fill="#80d8fa" stroke="#4a5357" stroke-width="1"/>
<path d="M80.8,256.5 L80.8,273 Q80.8,279.5 87,279.5 L130,279.5 Q137,279.5 138,286 L146,376 Q147,379.5 151,379 L654,328.6 Q663.5,327.5 665.5,318 L672.3,258 Q673.8,243 677.8,230.5" fill="none" stroke="#23292c" stroke-width="2.2" stroke-linejoin="round"/>
<path d="M65.3,256.3 L81.5,256.3" fill="none" stroke="#23292c" stroke-width="1.6"/>
<path d="M71,230.3 L686,230.3 L690,236" fill="none" stroke="#23292c" stroke-width="2.3" stroke-linejoin="round"/>
<circle cx="690" cy="236.3" r="1.6" fill="#23292c"/>
<path d="M66.5,237 L71.5,230.3 L80.6,230.3 L80.6,237" fill="#ffffff" stroke="#23292c" stroke-width="1.8"/>
<path d="M65.5,237.5 L82.8,237.5 L82.8,245.5" fill="none" stroke="#23292c" stroke-width="1.6"/>
<path d="M481.9,230.5 L483.5,242.2 M478.4,242.2 L520.4,242.2 L523.6,266.4 M515,266.4 L572,266.4 L575.5,289 M565,289 L668,289" fill="none" stroke="#23292c" stroke-width="2.2"/>
<path d="M50.2,288 L50.2,568 Q50.2,580.2 62,580.2 L86,580.2" fill="none" stroke="#3a4549" stroke-width="7.4" stroke-linejoin="round" transform="translate(0.3,0.3)"/>
<path d="M50.2,288 L50.2,568 Q50.2,580.2 62,580.2 L86,580.2" fill="none" stroke="#5f696d" stroke-width="7.4" stroke-linejoin="round" transform="translate(-0.3,-0.3)"/>
<path d="M50.2,288 L50.2,568 Q50.2,580.2 62,580.2 L86,580.2" fill="none" stroke="#b4bcbf" stroke-width="4.800000000000001" stroke-linejoin="round"/>
<path d="M50.2,288 L50.2,568 Q50.2,580.2 62,580.2 L86,580.2" fill="none" stroke="#d2d8da" stroke-width="4.0" stroke-linejoin="round" transform="translate(-0.5,-0.5)"/>
<path d="M50.2,288 L50.2,568 Q50.2,580.2 62,580.2 L86,580.2" fill="none" stroke="#e3e7e8" stroke-width="1.5" stroke-linejoin="round" transform="translate(-0.4,-0.4)"/>
<rect x="83" y="366.2" width="59" height="8" fill="#d2d8da"/>
<rect x="83" y="369.24" width="59" height="1.76" fill="#e3e7e8"/>
<rect x="83" y="371.8" width="59" height="1.3" fill="#b4bcbf"/>
<line x1="83" y1="366.8" x2="142" y2="366.8" stroke="#5f696d" stroke-width="1.2"/>
<line x1="83" y1="373.5" x2="142" y2="373.5" stroke="#3a4549" stroke-width="1.4"/>
<path d="M140.6,365.2 L145.3,365.2 L145.3,362.5 L151.3,362.5 L151.3,377 L145.3,377 L145.3,375 L140.6,375 Z" fill="#e9ebec" stroke="#3f484c" stroke-width="1.2" stroke-linejoin="round"/>
<path d="M66,382.5 L66,373.3 Q66,365.3 74,365.3 L83.8,365.3 L83.8,374.2 L79,374.2 Q76,374.2 76,377.2 L76,382.5 Z" fill="#e8eaeb" stroke="#4a5357" stroke-width="1.3" stroke-linejoin="round"/>
<path d="M71.2,382.5 L71.2,540 Q71.2,550.6 82,550.6 L86,550.6" fill="none" stroke="#3a4549" stroke-width="7.4" stroke-linejoin="round" transform="translate(0.3,0.3)"/>
<path d="M71.2,382.5 L71.2,540 Q71.2,550.6 82,550.6 L86,550.6" fill="none" stroke="#5f696d" stroke-width="7.4" stroke-linejoin="round" transform="translate(-0.3,-0.3)"/>
<path d="M71.2,382.5 L71.2,540 Q71.2,550.6 82,550.6 L86,550.6" fill="none" stroke="#b4bcbf" stroke-width="4.800000000000001" stroke-linejoin="round"/>
<path d="M71.2,382.5 L71.2,540 Q71.2,550.6 82,550.6 L86,550.6" fill="none" stroke="#d2d8da" stroke-width="4.0" stroke-linejoin="round" transform="translate(-0.5,-0.5)"/>
<path d="M71.2,382.5 L71.2,540 Q71.2,550.6 82,550.6 L86,550.6" fill="none" stroke="#e3e7e8" stroke-width="1.5" stroke-linejoin="round" transform="translate(-0.4,-0.4)"/>
<path d="M90.8,535.0 L114.5,535.0 L113.5,539.2 L92.8,539.2 Z" fill="#f4e300" stroke="#2b2624" stroke-width="0.9" stroke-linejoin="round"/>
<rect x="97.8" y="539.0" width="5.2" height="8" fill="#f4e300" stroke="#2b2624" stroke-width="0.8"/>
<rect x="85.5" y="546.2" width="4.5" height="8.6" fill="#e8291f" stroke="#2b2624" stroke-width="0.9" rx="1"/>
<rect x="90.0" y="542.7" width="7.2" height="15.6" fill="#3a302d" stroke="#2b2624" stroke-width="0.9" rx="1"/>
<rect x="97.2" y="545.7" width="6.5" height="10.3" fill="#f4e300" stroke="#2b2624" stroke-width="0.8"/>
<rect x="103.7" y="542.7" width="7.2" height="15.6" fill="#3a302d" stroke="#2b2624" stroke-width="0.9" rx="1"/>
<rect x="110.9" y="546.2" width="4.5" height="8.6" fill="#e8291f" stroke="#2b2624" stroke-width="0.9" rx="1"/>
<path d="M90.8,564.8 L114.5,564.8 L113.5,569.0 L92.8,569.0 Z" fill="#f4e300" stroke="#2b2624" stroke-width="0.9" stroke-linejoin="round"/>
<rect x="97.8" y="568.8" width="5.2" height="8" fill="#f4e300" stroke="#2b2624" stroke-width="0.8"/>
<rect x="85.5" y="576.0" width="4.5" height="8.6" fill="#e8291f" stroke="#2b2624" stroke-width="0.9" rx="1"/>
<rect x="90.0" y="572.5" width="7.2" height="15.6" fill="#3a302d" stroke="#2b2624" stroke-width="0.9" rx="1"/>
<rect x="97.2" y="575.5" width="6.5" height="10.3" fill="#f4e300" stroke="#2b2624" stroke-width="0.8"/>
<rect x="103.7" y="572.5" width="7.2" height="15.6" fill="#3a302d" stroke="#2b2624" stroke-width="0.9" rx="1"/>
<rect x="110.9" y="576.0" width="4.5" height="8.6" fill="#e8291f" stroke="#2b2624" stroke-width="0.9" rx="1"/>
<rect x="115" y="546.95" width="6.5" height="6.5" fill="#d2d8da"/>
<rect x="115" y="549.4200000000001" width="6.5" height="1.43" fill="#e3e7e8"/>
<rect x="115" y="551.0500000000001" width="6.5" height="1.3" fill="#b4bcbf"/>
<line x1="115" y1="547.5500000000001" x2="121.5" y2="547.5500000000001" stroke="#5f696d" stroke-width="1.2"/>
<line x1="115" y1="552.75" x2="121.5" y2="552.75" stroke="#3a4549" stroke-width="1.4"/>
<rect x="115" y="576.95" width="6.5" height="6.5" fill="#d2d8da"/>
<rect x="115" y="579.4200000000001" width="6.5" height="1.43" fill="#e3e7e8"/>
<rect x="115" y="581.0500000000001" width="6.5" height="1.3" fill="#b4bcbf"/>
<line x1="115" y1="577.5500000000001" x2="121.5" y2="577.5500000000001" stroke="#5f696d" stroke-width="1.2"/>
<line x1="115" y1="582.75" x2="121.5" y2="582.75" stroke="#3a4549" stroke-width="1.4"/>
<path d="M120.5,546 L129.8,546 Q137.8,546 137.8,554 L137.8,563 L128,563 L128,557 Q128,554 125,554 L120.5,554 Z" fill="#e8eaeb" stroke="#4a5357" stroke-width="1.3" stroke-linejoin="round"/>
<rect x="128.6" y="562.5" width="8" height="6.5" fill="#d2d8da"/>
<rect x="131.64" y="562.5" width="1.76" height="6.5" fill="#e3e7e8"/>
<rect x="134.2" y="562.5" width="1.3" height="6.5" fill="#b4bcbf"/>
<line x1="129.2" y1="562.5" x2="129.2" y2="569" stroke="#5f696d" stroke-width="1.2"/>
<line x1="135.9" y1="562.5" x2="135.9" y2="569" stroke="#3a4549" stroke-width="1.4"/>
<path d="M122.0,576 L127.5,576 L127.5,570 Q127.5,568 129.5,568 L135.8,568 Q137.8,568 137.8,570 L137.8,576 L143.0,576 Q144.5,576 144.5,577.5 L144.5,583.1 Q144.5,584.6 143.0,584.6 L122.0,584.6 Q120.5,584.6 120.5,583.1 L120.5,577.5 Q120.5,576 122.0,576 Z" fill="#e8eaeb" stroke="#4a5357" stroke-width="1.3" stroke-linejoin="round"/>
<rect x="144.5" y="576.95" width="5.0" height="6.5" fill="#d2d8da"/>
<rect x="144.5" y="579.4200000000001" width="5.0" height="1.43" fill="#e3e7e8"/>
<rect x="144.5" y="581.0500000000001" width="5.0" height="1.3" fill="#b4bcbf"/>
<line x1="144.5" y1="577.5500000000001" x2="149.5" y2="577.5500000000001" stroke="#5f696d" stroke-width="1.2"/>
<line x1="144.5" y1="582.75" x2="149.5" y2="582.75" stroke="#3a4549" stroke-width="1.4"/>
<rect x="149.2" y="575.7" width="4.5" height="9" fill="#e8291f" stroke="#2b2624" stroke-width="0.9" rx="1"/>
<rect x="153.7" y="572.7" width="7" height="15" fill="#3a302d" stroke="#2b2624" stroke-width="0.9" rx="1"/>
<rect x="160.7" y="574.2" width="5.5" height="12" fill="#efd300" stroke="#2b2624" stroke-width="0.9" rx="1"/>
<path d="M161.5,578.2 L165.39999999999998,578.2 M161.5,582.2 L165.39999999999998,582.2" stroke="#6e6410" stroke-width="0.9"/>
<path d="M170.6,566 L195.3,566 L199.5,571 L166.5,571 Z" fill="#c5cdce" stroke="#4a5357" stroke-width="1.1"/>
<path d="M166.5,571 L214.5,571 L214.5,637 L174,637 L166.5,589 Z" fill="#c3cbcc" stroke="#4a5357" stroke-width="1.1"/>
<path d="M214.5,591 L220.7,591 L220.7,637 L214.5,637 Z" fill="#c3cbcc" stroke="#4a5357" stroke-width="1.1"/>
<path d="M167,590.8 L220.7,590.8" stroke="#4a5357" stroke-width="1.1"/>
<rect x="221.2" y="596.4" width="2.2" height="36.6" fill="#3d4d52"/>
<rect x="225.3" y="595.3" width="2.7" height="38.7" fill="#3d4d52"/>
<rect x="229.6" y="593" width="4.5" height="43.4" fill="#3d4d52" rx="1.5"/>
<rect x="235.8" y="594.2" width="45" height="39.4" fill="#3d4d52"/>
<rect x="235.8" y="597.5" width="45" height="1.2" fill="#ffffff"/>
<rect x="235.8" y="601.85" width="45" height="1.2" fill="#ffffff"/>
<rect x="235.8" y="606.2" width="45" height="1.2" fill="#ffffff"/>
<rect x="235.8" y="610.55" width="45" height="1.2" fill="#ffffff"/>
<rect x="235.8" y="614.9" width="45" height="1.2" fill="#ffffff"/>
<rect x="235.8" y="619.25" width="45" height="1.2" fill="#ffffff"/>
<rect x="235.8" y="623.6" width="45" height="1.2" fill="#ffffff"/>
<rect x="235.8" y="627.95" width="45" height="1.2" fill="#ffffff"/>
<rect x="235.8" y="632.3" width="45" height="1.2" fill="#ffffff"/>
<rect x="235.8" y="602.5" width="45" height="1.6" fill="#8c969a"/>
<rect x="235.8" y="611.3" width="45" height="1.6" fill="#8c969a"/>
<rect x="235.8" y="624.3" width="45" height="1.6" fill="#8c969a"/>
<rect x="236" y="633.6" width="8" height="6.4" fill="#3d4d52"/>
<rect x="272.5" y="633.6" width="8" height="6.4" fill="#3d4d52"/>
<path d="M282,593 L288,593 Q292.6,593 292.6,598 L292.6,630 Q292.6,635.2 288,635.2 L282,635.2 Z" fill="#414c51"/>
<rect x="203.3" y="453" width="7.4" height="102" fill="#d2d8da"/>
<rect x="206.11200000000002" y="453" width="1.6280000000000001" height="102" fill="#e3e7e8"/>
<rect x="208.3" y="453" width="1.3" height="102" fill="#b4bcbf"/>
<line x1="203.9" y1="453" x2="203.9" y2="555" stroke="#5f696d" stroke-width="1.2"/>
<line x1="210.00000000000003" y1="453" x2="210.00000000000003" y2="555" stroke="#3a4549" stroke-width="1.4"/>
<rect x="202.5" y="554.4" width="9" height="4.5" fill="#e8291f" stroke="#2b2624" stroke-width="0.9" rx="1"/>
<rect x="199.5" y="558.9" width="15" height="7" fill="#3a302d" stroke="#2b2624" stroke-width="0.9" rx="1"/>
<rect x="201.0" y="565.9" width="12" height="5.5" fill="#efd300" stroke="#2b2624" stroke-width="0.9" rx="1"/>
<path d="M205.0,566.6999999999999 L205.0,570.6 M209.0,566.6999999999999 L209.0,570.6" stroke="#6e6410" stroke-width="0.9"/>
<path d="M201.5,453.1 L201.5,443.3 Q201.5,435.3 209.5,435.3 L219.4,435.3 L219.4,444 L214,444 Q211,444 211,447 L211,453.1 Z" fill="#e8eaeb" stroke="#4a5357" stroke-width="1.3" stroke-linejoin="round"/>
<rect x="219.4" y="436.7" width="108.6" height="7.2" fill="#d2d8da"/>
<rect x="219.4" y="439.436" width="108.6" height="1.584" fill="#e3e7e8"/>
<rect x="219.4" y="441.5" width="108.6" height="1.3" fill="#b4bcbf"/>
<line x1="219.4" y1="437.3" x2="328" y2="437.3" stroke="#5f696d" stroke-width="1.2"/>
<line x1="219.4" y1="443.2" x2="328" y2="443.2" stroke="#3a4549" stroke-width="1.4"/>
<path d="M324.4,612 L403.7,612 L419,640 L310,640 Z" fill="#3e5155"/>
<path d="M334.8,468.3 L394.5,468.3 A27,30 0 0 1 421.5,498.3 L421.5,584 A25,28.8 0 0 1 396.5,612.8 L332.8,612.8 A25,28.8 0 0 1 307.8,584 L307.8,498.3 A27,30 0 0 1 334.8,468.3 Z" fill="#0aa6ea" stroke="#1d6f99" stroke-width="1.1"/>
<path d="M308,498.4 L421.3,498.4 M308,584 L421.3,584" stroke="#1d6f99" stroke-width="1.3"/>
<path d="M361,426 L391.5,416.3 Q394.5,416 393.8,418.8 L370,426.8 Z" fill="#7f898d" stroke="#333d41" stroke-width="1.1" stroke-linejoin="round"/>
<path d="M357.8,428.8 L359.8,425.3 L371.5,425.3 L373.5,428.8 Z" fill="#b4c2c8" stroke="#333d41" stroke-width="1"/>
<rect x="347.5" y="462" width="33.1" height="6.3" fill="#f7bb74" stroke="#6b5240" stroke-width="0.9"/>
<path d="M343.75,463.75 L343.75,433 Q343.75,428.75 348,428.75 L381,428.75 Q385,428.75 385,433 L385,463.75 Z" fill="#f9be76" stroke="#6b5240" stroke-width="1"/>
<path d="M344,441.9 L385,441.9 M344,459.4 L385,459.4" stroke="#5b4535" stroke-width="1.1"/>
<rect x="326.8" y="435.7" width="4.5" height="9" fill="#e8291f" stroke="#2b2624" stroke-width="0.9" rx="1"/>
<rect x="331.3" y="432.7" width="7" height="15" fill="#3a302d" stroke="#2b2624" stroke-width="0.9" rx="1"/>
<rect x="338.3" y="434.2" width="5.5" height="12" fill="#efd300" stroke="#2b2624" stroke-width="0.9" rx="1"/>
<path d="M339.1,438.2 L343.0,438.2 M339.1,442.2 L343.0,442.2" stroke="#6e6410" stroke-width="0.9"/>
<rect x="385" y="434.2" width="5.5" height="12" fill="#efd300" stroke="#2b2624" stroke-width="0.9" rx="1"/>
<path d="M385.8,438.2 L389.7,438.2 M385.8,442.2 L389.7,442.2" stroke="#6e6410" stroke-width="0.9"/>
<rect x="390.5" y="432.7" width="7" height="15" fill="#3a302d" stroke="#2b2624" stroke-width="0.9" rx="1"/>
<rect x="397.5" y="435.7" width="4.5" height="9" fill="#e8291f" stroke="#2b2624" stroke-width="0.9" rx="1"/>
<rect x="385" y="452.3" width="5.5" height="12" fill="#efd300" stroke="#2b2624" stroke-width="0.9" rx="1"/>
<path d="M385.8,456.3 L389.7,456.3 M385.8,460.3 L389.7,460.3" stroke="#6e6410" stroke-width="0.9"/>
<rect x="390.5" y="450.8" width="7" height="15" fill="#3a302d" stroke="#2b2624" stroke-width="0.9" rx="1"/>
<rect x="397.5" y="453.8" width="4.5" height="9" fill="#e8291f" stroke="#2b2624" stroke-width="0.9" rx="1"/>
<rect x="402" y="434.9" width="62" height="7.2" fill="#d2d8da"/>
<rect x="402" y="437.63599999999997" width="62" height="1.584" fill="#e3e7e8"/>
<rect x="402" y="439.7" width="62" height="1.3" fill="#b4bcbf"/>
<line x1="402" y1="435.5" x2="464" y2="435.5" stroke="#5f696d" stroke-width="1.2"/>
<line x1="402" y1="441.4" x2="464" y2="441.4" stroke="#3a4549" stroke-width="1.4"/>
<rect x="402" y="454.9" width="28" height="7.2" fill="#d2d8da"/>
<rect x="402" y="457.63599999999997" width="28" height="1.584" fill="#e3e7e8"/>
<rect x="402" y="459.7" width="28" height="1.3" fill="#b4bcbf"/>
<line x1="402" y1="455.5" x2="430" y2="455.5" stroke="#5f696d" stroke-width="1.2"/>
<line x1="402" y1="461.4" x2="430" y2="461.4" stroke="#3a4549" stroke-width="1.4"/>
<path d="M429.4,453 L438.3,453 Q446.3,453 446.3,461 L446.3,470.6 L438.8,470.6 L438.8,466.5 Q438.8,463.5 435.8,463.5 L429.4,463.5 Z" fill="#e8eaeb" stroke="#4a5357" stroke-width="1.3" stroke-linejoin="round"/>
<rect x="438.75" y="470" width="6.5" height="6" fill="#d2d8da"/>
<rect x="441.22" y="470" width="1.43" height="6" fill="#e3e7e8"/>
<rect x="442.85" y="470" width="1.3" height="6" fill="#b4bcbf"/>
<line x1="439.35" y1="470" x2="439.35" y2="476" stroke="#5f696d" stroke-width="1.2"/>
<line x1="444.55" y1="470" x2="444.55" y2="476" stroke="#3a4549" stroke-width="1.4"/>
<path d="M464.5,433.75 L487.25,433.75 Q488.75,433.75 488.75,435.25 L488.75,441.5 Q488.75,443 487.25,443 L481.25,443 L481.25,448 Q481.25,450 479.25,450 L473.25,450 Q471.25,450 471.25,448 L471.25,443 L464.5,443 Q463,443 463,441.5 L463,435.25 Q463,433.75 464.5,433.75 Z" fill="#e8eaeb" stroke="#4a5357" stroke-width="1.3" stroke-linejoin="round"/>
<rect x="472.95" y="450" width="6.5" height="26" fill="#d2d8da"/>
<rect x="475.42" y="450" width="1.43" height="26" fill="#e3e7e8"/>
<rect x="477.05" y="450" width="1.3" height="26" fill="#b4bcbf"/>
<line x1="473.55" y1="450" x2="473.55" y2="476" stroke="#5f696d" stroke-width="1.2"/>
<line x1="478.75" y1="450" x2="478.75" y2="476" stroke="#3a4549" stroke-width="1.4"/>
<path d="M452.5,481 L457,481 L457,504 L452.5,503 Z" fill="#f4e300" stroke="#2b2624" stroke-width="0.9" stroke-linejoin="round"/>
<rect x="447" y="488" width="6" height="6" fill="#f4e300" stroke="#2b2624" stroke-width="0.8"/>
<rect x="437" y="475" width="10" height="4" fill="#e8291f" stroke="#2b2624" stroke-width="0.9" rx="1"/>
<rect x="434" y="479" width="16" height="8" fill="#3a302d" stroke="#2b2624" stroke-width="0.9" rx="1"/>
<rect x="435.5" y="487" width="13" height="7" fill="#f4e300" stroke="#2b2624" stroke-width="0.8"/>
<rect x="434" y="494" width="16" height="8" fill="#3a302d" stroke="#2b2624" stroke-width="0.9" rx="1"/>
<rect x="437" y="502" width="10" height="4" fill="#e8291f" stroke="#2b2624" stroke-width="0.9" rx="1"/>
<path d="M486.7,481 L491.2,481 L491.2,504 L486.7,503 Z" fill="#f4e300" stroke="#2b2624" stroke-width="0.9" stroke-linejoin="round"/>
<rect x="481.2" y="488" width="6" height="6" fill="#f4e300" stroke="#2b2624" stroke-width="0.8"/>
<rect x="471.2" y="475" width="10" height="4" fill="#e8291f" stroke="#2b2624" stroke-width="0.9" rx="1"/>
<rect x="468.2" y="479" width="16" height="8" fill="#3a302d" stroke="#2b2624" stroke-width="0.9" rx="1"/>
<rect x="469.7" y="487" width="13" height="7" fill="#f4e300" stroke="#2b2624" stroke-width="0.8"/>
<rect x="468.2" y="494" width="16" height="8" fill="#3a302d" stroke="#2b2624" stroke-width="0.9" rx="1"/>
<rect x="471.2" y="502" width="10" height="4" fill="#e8291f" stroke="#2b2624" stroke-width="0.9" rx="1"/>
<rect x="472.95" y="505" width="6.5" height="81" fill="#d2d8da"/>
<rect x="475.42" y="505" width="1.43" height="81" fill="#e3e7e8"/>
<rect x="477.05" y="505" width="1.3" height="81" fill="#b4bcbf"/>
<line x1="473.55" y1="505" x2="473.55" y2="586" stroke="#5f696d" stroke-width="1.2"/>
<line x1="478.75" y1="505" x2="478.75" y2="586" stroke="#3a4549" stroke-width="1.4"/>
<rect x="488.75" y="435.25" width="2.75" height="6.5" fill="#d2d8da"/>
<rect x="488.75" y="437.72" width="2.75" height="1.43" fill="#e3e7e8"/>
<rect x="488.75" y="439.35" width="2.75" height="1.3" fill="#b4bcbf"/>
<line x1="488.75" y1="435.85" x2="491.5" y2="435.85" stroke="#5f696d" stroke-width="1.2"/>
<line x1="488.75" y1="441.05" x2="491.5" y2="441.05" stroke="#3a4549" stroke-width="1.4"/>
<path d="M496.3,422.5 L520,422.5 L519,426.7 L498.3,426.7 Z" fill="#f4e300" stroke="#2b2624" stroke-width="0.9" stroke-linejoin="round"/>
<rect x="503.3" y="426.5" width="5.2" height="8" fill="#f4e300" stroke="#2b2624" stroke-width="0.8"/>
<rect x="491" y="433.7" width="4.5" height="8.6" fill="#f06a22" stroke="#2b2624" stroke-width="0.9" rx="1"/>
<rect x="495.5" y="430.2" width="7.2" height="15.6" fill="#3a302d" stroke="#2b2624" stroke-width="0.9" rx="1"/>
<rect x="502.7" y="433.2" width="6.5" height="10.3" fill="#f4e300" stroke="#2b2624" stroke-width="0.8"/>
<rect x="509.2" y="430.2" width="7.2" height="15.6" fill="#3a302d" stroke="#2b2624" stroke-width="0.9" rx="1"/>
<rect x="516.4" y="433.7" width="4.5" height="8.6" fill="#f06a22" stroke="#2b2624" stroke-width="0.9" rx="1"/>
<rect x="520.5" y="435.05" width="3.5" height="6.5" fill="#d2d8da"/>
<rect x="520.5" y="437.52000000000004" width="3.5" height="1.43" fill="#e3e7e8"/>
<rect x="520.5" y="439.15000000000003" width="3.5" height="1.3" fill="#b4bcbf"/>
<line x1="520.5" y1="435.65000000000003" x2="524" y2="435.65000000000003" stroke="#5f696d" stroke-width="1.2"/>
<line x1="520.5" y1="440.85" x2="524" y2="440.85" stroke="#3a4549" stroke-width="1.4"/>
<path d="M525.25,433.75 L547.25,433.75 Q548.75,433.75 548.75,435.25 L548.75,441.5 Q548.75,443 547.25,443 L540.6,443 L540.6,448.6 Q540.6,450.6 538.6,450.6 L532.6,450.6 Q530.6,450.6 530.6,448.6 L530.6,443 L525.25,443 Q523.75,443 523.75,441.5 L523.75,435.25 Q523.75,433.75 525.25,433.75 Z" fill="#e8eaeb" stroke="#4a5357" stroke-width="1.3" stroke-linejoin="round"/>
<rect x="548.75" y="434.9" width="36.75" height="7.2" fill="#d2d8da"/>
<rect x="548.75" y="437.63599999999997" width="36.75" height="1.584" fill="#e3e7e8"/>
<rect x="548.75" y="439.7" width="36.75" height="1.3" fill="#b4bcbf"/>
<line x1="548.75" y1="435.5" x2="585.5" y2="435.5" stroke="#5f696d" stroke-width="1.2"/>
<line x1="548.75" y1="441.4" x2="585.5" y2="441.4" stroke="#3a4549" stroke-width="1.4"/>
<rect x="532.7" y="450" width="7" height="26" fill="#d2d8da"/>
<rect x="535.36" y="450" width="1.54" height="26" fill="#e3e7e8"/>
<rect x="537.3000000000001" y="450" width="1.3" height="26" fill="#b4bcbf"/>
<line x1="533.3000000000001" y1="450" x2="533.3000000000001" y2="476" stroke="#5f696d" stroke-width="1.2"/>
<line x1="539.0" y1="450" x2="539.0" y2="476" stroke="#3a4549" stroke-width="1.4"/>
<path d="M546.7,481 L551.2,481 L551.2,504 L546.7,503 Z" fill="#f4e300" stroke="#2b2624" stroke-width="0.9" stroke-linejoin="round"/>
<rect x="541.2" y="488" width="6" height="6" fill="#f4e300" stroke="#2b2624" stroke-width="0.8"/>
<rect x="531.2" y="475" width="10" height="4" fill="#f06a22" stroke="#2b2624" stroke-width="0.9" rx="1"/>
<rect x="528.2" y="479" width="16" height="8" fill="#3a302d" stroke="#2b2624" stroke-width="0.9" rx="1"/>
<rect x="529.7" y="487" width="13" height="7" fill="#f4e300" stroke="#2b2624" stroke-width="0.8"/>
<rect x="528.2" y="494" width="16" height="8" fill="#3a302d" stroke="#2b2624" stroke-width="0.9" rx="1"/>
<rect x="531.2" y="502" width="10" height="4" fill="#f06a22" stroke="#2b2624" stroke-width="0.9" rx="1"/>
<rect x="532.7" y="505" width="7" height="46" fill="#d2d8da"/>
<rect x="535.36" y="505" width="1.54" height="46" fill="#e3e7e8"/>
<rect x="537.3000000000001" y="505" width="1.3" height="46" fill="#b4bcbf"/>
<line x1="533.3000000000001" y1="505" x2="533.3000000000001" y2="551" stroke="#5f696d" stroke-width="1.2"/>
<line x1="539.0" y1="505" x2="539.0" y2="551" stroke="#3a4549" stroke-width="1.4"/>
<path d="M531.2,550 L540.5,550 L540.5,554.5 Q540.5,557.5 543.5,557.5 L548,557.5 L548,566.6 L539.2,566.6 Q531.2,566.6 531.2,558.6 Z" fill="#e8eaeb" stroke="#4a5357" stroke-width="1.3" stroke-linejoin="round"/>
<rect x="548" y="558.6" width="35" height="7.2" fill="#d2d8da"/>
<rect x="548" y="561.336" width="35" height="1.584" fill="#e3e7e8"/>
<rect x="548" y="563.4000000000001" width="35" height="1.3" fill="#b4bcbf"/>
<line x1="548" y1="559.2" x2="583" y2="559.2" stroke="#5f696d" stroke-width="1.2"/>
<line x1="548" y1="565.1" x2="583" y2="565.1" stroke="#3a4549" stroke-width="1.4"/>
<rect x="582.4" y="557.7" width="4.5" height="9" fill="#f06a22" stroke="#2b2624" stroke-width="0.9" rx="1"/>
<rect x="586.9" y="554.7" width="7" height="15" fill="#3a302d" stroke="#2b2624" stroke-width="0.9" rx="1"/>
<rect x="593.9" y="556.2" width="5.5" height="12" fill="#efd300" stroke="#2b2624" stroke-width="0.9" rx="1"/>
<path d="M594.6999999999999,560.2 L598.6,560.2 M594.6999999999999,564.2 L598.6,564.2" stroke="#6e6410" stroke-width="0.9"/>
<path d="M471.3,585.5 L480,585.5 L480,590.5 Q480,593.5 483,593.5 L488.5,593.5 L488.5,602.3 L479.3,602.3 Q471.3,602.3 471.3,594.3 Z" fill="#e8eaeb" stroke="#4a5357" stroke-width="1.3" stroke-linejoin="round"/>
<rect x="488.5" y="593.7" width="94.5" height="7.6" fill="#d2d8da"/>
<rect x="488.5" y="596.5880000000001" width="94.5" height="1.672" fill="#e3e7e8"/>
<rect x="488.5" y="598.9000000000001" width="94.5" height="1.3" fill="#b4bcbf"/>
<line x1="488.5" y1="594.3000000000001" x2="583" y2="594.3000000000001" stroke="#5f696d" stroke-width="1.2"/>
<line x1="488.5" y1="600.6" x2="583" y2="600.6" stroke="#3a4549" stroke-width="1.4"/>
<rect x="582.4" y="593.0" width="4.5" height="9" fill="#e8291f" stroke="#2b2624" stroke-width="0.9" rx="1"/>
<rect x="586.9" y="590.0" width="7" height="15" fill="#3a302d" stroke="#2b2624" stroke-width="0.9" rx="1"/>
<rect x="593.9" y="591.5" width="5.5" height="12" fill="#efd300" stroke="#2b2624" stroke-width="0.9" rx="1"/>
<path d="M594.6999999999999,595.5 L598.6,595.5 M594.6999999999999,599.5 L598.6,599.5" stroke="#6e6410" stroke-width="0.9"/>
<rect x="584.75" y="433.8" width="4.5" height="9" fill="#e8291f" stroke="#2b2624" stroke-width="0.9" rx="1"/>
<rect x="589.25" y="430.8" width="7" height="15" fill="#3a302d" stroke="#2b2624" stroke-width="0.9" rx="1"/>
<rect x="596.25" y="432.3" width="5.5" height="12" fill="#efd300" stroke="#2b2624" stroke-width="0.9" rx="1"/>
<path d="M597.05,436.3 L600.95,436.3 M597.05,440.3 L600.95,440.3" stroke="#6e6410" stroke-width="0.9"/>
<path d="M600.2,392.8 L630.3,392.8 L629,438.3 L601.5,438.3 Z" fill="#d0d4d6" stroke="#4a5357" stroke-width="1"/>
<rect x="599.4" y="438.3" width="31.7" height="11.4" fill="#4a5358"/>
<rect x="599.4" y="386.3" width="32.6" height="6.5" fill="#4a5358" rx="1"/>
<rect x="601.8" y="383" width="27.7" height="3.6" fill="#4a5358"/>
<rect x="610.8" y="380.6" width="9.7" height="2.6" fill="#4a5358" rx="1"/>
<rect x="631" y="432.3" width="5.5" height="12" fill="#efd300" stroke="#2b2624" stroke-width="0.9" rx="1"/>
<path d="M631.8,436.3 L635.7,436.3 M631.8,440.3 L635.7,440.3" stroke="#6e6410" stroke-width="0.9"/>
<rect x="636.5" y="430.8" width="7" height="15" fill="#3a302d" stroke="#2b2624" stroke-width="0.9" rx="1"/>
<rect x="643.5" y="433.8" width="4.5" height="9" fill="#e8291f" stroke="#2b2624" stroke-width="0.9" rx="1"/>
<rect x="646" y="435.2" width="38" height="7" fill="#d2d8da"/>
<rect x="646" y="437.86" width="38" height="1.54" fill="#e3e7e8"/>
<rect x="646" y="439.8" width="38" height="1.3" fill="#b4bcbf"/>
<line x1="646" y1="435.8" x2="684" y2="435.8" stroke="#5f696d" stroke-width="1.2"/>
<line x1="646" y1="441.5" x2="684" y2="441.5" stroke="#3a4549" stroke-width="1.4"/>
<path d="M683,435.5 L688.5,435.5 Q691.5,435.5 691.5,432.5 L691.5,426 L699.4,426 L699.4,435.2 Q699.4,443.2 691.4,443.2 L683,443.2 Z" fill="#e8eaeb" stroke="#4a5357" stroke-width="1.3" stroke-linejoin="round"/>
<rect x="691.6" y="270" width="7.2" height="157" fill="#d2d8da"/>
<rect x="694.336" y="270" width="1.584" height="157" fill="#e3e7e8"/>
<rect x="696.4000000000001" y="270" width="1.3" height="157" fill="#b4bcbf"/>
<line x1="692.2" y1="270" x2="692.2" y2="427" stroke="#5f696d" stroke-width="1.2"/>
<line x1="698.1" y1="270" x2="698.1" y2="427" stroke="#3a4549" stroke-width="1.4"/>
<path d="M683,255.8 L691.8,255.8 Q699.8,255.8 699.8,263.8 L699.8,271 L691.5,271 L691.5,265.5 Q691.5,262.5 688.5,262.5 L683,262.5 Z" fill="#e8eaeb" stroke="#4a5357" stroke-width="1.3" stroke-linejoin="round"/>
<rect x="678" y="258" width="5.5" height="7.5" fill="#c9ced0" stroke="#4a5357" stroke-width="1"/>
<rect x="667.7" y="256.4" width="10.2" height="9.6" fill="#e6e8e9" stroke="#4a5357" stroke-width="1.1"/>
<path d="M635,261 Q650,252.5 668,257.5 L668,265 Q650,269.5 635,261 Z" fill="#e4f6fd" opacity="0.75"/>
<rect x="637.5" y="259.5" width="3.5" height="3" rx="0.8" fill="#0eaee8"/>
<rect x="647" y="255.5" width="4" height="4.5" rx="0.8" fill="#0eaee8"/>
<rect x="651.5" y="256" width="3.2" height="3" rx="0.8" fill="#0eaee8"/>
<rect x="647.5" y="261.5" width="3" height="3" rx="0.8" fill="#0eaee8"/>
<rect x="649" y="264.5" width="3" height="3" rx="0.8" fill="#0eaee8"/>
<rect x="652.5" y="260.5" width="3" height="3" rx="0.8" fill="#0eaee8"/>
<rect x="656" y="259" width="2.5" height="2.5" rx="0.8" fill="#0eaee8"/>
<rect x="658.5" y="262" width="2.2" height="2.2" rx="0.8" fill="#0eaee8"/>
<rect x="660.5" y="257.5" width="2" height="2" rx="0.8" fill="#0eaee8"/>
<rect x="663" y="261.5" width="1.8" height="1.8" rx="0.8" fill="#0eaee8"/>
<rect x="654" y="263.5" width="2" height="2" rx="0.8" fill="#0eaee8"/>
<rect x="599" y="526.7" width="166.2" height="105.4" fill="#b3bec0" stroke="#535c60" stroke-width="1.1"/>
<rect x="606.9" y="632" width="7.9" height="8" fill="#3d4d52"/>
<rect x="749.9" y="632" width="7.9" height="8" fill="#3d4d52"/>
<circle cx="712.2" cy="579.6" r="45.30" fill="none" stroke="#38454a" stroke-width="1.05"/>
<circle cx="712.2" cy="579.6" r="41.85" fill="none" stroke="#38454a" stroke-width="1.05"/>
<circle cx="712.2" cy="579.6" r="38.40" fill="none" stroke="#38454a" stroke-width="1.05"/>
<circle cx="712.2" cy="579.6" r="34.95" fill="none" stroke="#38454a" stroke-width="1.05"/>
<circle cx="712.2" cy="579.6" r="31.50" fill="none" stroke="#38454a" stroke-width="1.05"/>
<circle cx="712.2" cy="579.6" r="28.05" fill="none" stroke="#38454a" stroke-width="1.05"/>
<circle cx="712.2" cy="579.6" r="24.60" fill="none" stroke="#38454a" stroke-width="1.05"/>
<circle cx="712.2" cy="579.6" r="21.15" fill="none" stroke="#38454a" stroke-width="1.05"/>
<circle cx="712.2" cy="579.6" r="17.70" fill="none" stroke="#38454a" stroke-width="1.05"/>
<circle cx="712.2" cy="579.6" r="14.25" fill="none" stroke="#38454a" stroke-width="1.05"/>
<circle cx="712.2" cy="579.6" r="10.80" fill="none" stroke="#38454a" stroke-width="1.05"/>
<circle cx="712.2" cy="579.6" r="7.35" fill="none" stroke="#38454a" stroke-width="1.05"/>
<circle cx="712.2" cy="579.6" r="3.90" fill="none" stroke="#38454a" stroke-width="1.05"/>
<line x1="712.2" y1="579.6" x2="757.50" y2="579.60" stroke="#38454a" stroke-width="1.05"/>
<line x1="712.2" y1="579.6" x2="751.43" y2="602.25" stroke="#38454a" stroke-width="1.05"/>
<line x1="712.2" y1="579.6" x2="734.85" y2="618.83" stroke="#38454a" stroke-width="1.05"/>
<line x1="712.2" y1="579.6" x2="712.20" y2="624.90" stroke="#38454a" stroke-width="1.05"/>
<line x1="712.2" y1="579.6" x2="689.55" y2="618.83" stroke="#38454a" stroke-width="1.05"/>
<line x1="712.2" y1="579.6" x2="672.97" y2="602.25" stroke="#38454a" stroke-width="1.05"/>
<line x1="712.2" y1="579.6" x2="666.90" y2="579.60" stroke="#38454a" stroke-width="1.05"/>
<line x1="712.2" y1="579.6" x2="672.97" y2="556.95" stroke="#38454a" stroke-width="1.05"/>
<line x1="712.2" y1="579.6" x2="689.55" y2="540.37" stroke="#38454a" stroke-width="1.05"/>
<line x1="712.2" y1="579.6" x2="712.20" y2="534.30" stroke="#38454a" stroke-width="1.05"/>
<line x1="712.2" y1="579.6" x2="734.85" y2="540.37" stroke="#38454a" stroke-width="1.05"/>
<line x1="712.2" y1="579.6" x2="751.43" y2="556.95" stroke="#38454a" stroke-width="1.05"/>
<circle cx="712.2" cy="579.6" r="3.3" fill="#38454a"/>
<path d="M429.6,640.3 L452.8,640.3 L446.5,648.5 L458.5,660 L449,660.2 L437.5,650 Z" fill="#f7923a" stroke="#5b3a20" stroke-width="0.8"/>
<rect x="438.75" y="505" width="6.5" height="139" fill="#d2d8da"/>
<rect x="441.22" y="505" width="1.43" height="139" fill="#e3e7e8"/>
<rect x="442.85" y="505" width="1.3" height="139" fill="#b4bcbf"/>
<line x1="439.35" y1="505" x2="439.35" y2="644" stroke="#5f696d" stroke-width="1.2"/>
<line x1="444.55" y1="505" x2="444.55" y2="644" stroke="#3a4549" stroke-width="1.4"/>
<path d="M59,443 L59,472" fill="none" stroke="#12aeea" stroke-width="2.2"/>
<path d="M0,0 L-13,-4.3 L-12,0 L-13,4.3 Z" fill="#12aeea" transform="translate(59,479) rotate(90)"/>
<path d="M80.3,443 L80.3,472" fill="none" stroke="#12aeea" stroke-width="2.2"/>
<path d="M0,0 L-13,-4.3 L-12,0 L-13,4.3 Z" fill="#12aeea" transform="translate(80.3,479) rotate(90)"/>
<path d="M195.5,521 L195.5,490" fill="none" stroke="#12aeea" stroke-width="2.2"/>
<path d="M0,0 L-13,-4.3 L-12,0 L-13,4.3 Z" fill="#12aeea" transform="translate(195.5,483.5) rotate(-90)"/>
<path d="M251,429 L284,429" fill="none" stroke="#12aeea" stroke-width="2.2"/>
<path d="M0,0 L-13,-4.3 L-12,0 L-13,4.3 Z" fill="#12aeea" transform="translate(290,429) rotate(0)"/>
<path d="M444.4,449.4 L461,449.4 Q465.5,449.4 465.5,454 L465.5,471" fill="none" stroke="#12aeea" stroke-width="2.2"/>
<path d="M0,0 L-13,-4.3 L-12,0 L-13,4.3 Z" fill="#12aeea" transform="translate(465.5,477.5) rotate(90)"/>
<path d="M486.5,565 L486.5,586 L507,586" fill="none" stroke="#12aeea" stroke-width="2.2"/>
<path d="M0,0 L-13,-4.3 L-12,0 L-13,4.3 Z" fill="#12aeea" transform="translate(514.5,586) rotate(0)"/>
<path d="M546.3,470 L546.3,453 Q546.3,449.5 550,449.5 L567,449" fill="none" stroke="#f0302a" stroke-width="1.9"/>
<path d="M0,0 L-11.5,-3.9 L-10.5,0 L-11.5,3.9 Z" fill="#f0302a" transform="translate(574,448.8) rotate(0)"/>
<path d="M568,551.6 L550,551.6 Q546.5,551.6 546.5,548 L546.5,531" fill="none" stroke="#f0302a" stroke-width="1.9"/>
<path d="M0,0 L-11.5,-3.9 L-10.5,0 L-11.5,3.9 Z" fill="#f0302a" transform="translate(546.5,524) rotate(-90)"/>
<path d="M662.8,427.7 L679.5,427.7 Q683,427.7 683,424 L683,408" fill="none" stroke="#f0302a" stroke-width="1.9"/>
<path d="M0,0 L-11.5,-3.9 L-10.5,0 L-11.5,3.9 Z" fill="#f0302a" transform="translate(683,401) rotate(-90)"/>
<path d="M705,272.7 L705,256 Q705,252 701,252 L684,251" fill="none" stroke="#f0302a" stroke-width="1.9"/>
<path d="M0,0 L-11.5,-3.9 L-10.5,0 L-11.5,3.9 Z" fill="#f0302a" transform="translate(677.3,250.7) rotate(180)"/>
<rect x="15" y="197" width="84.5" height="19" fill="#0870dc"/>
<text x="17.9" y="212.0" font-family="Liberation Sans" font-weight="bold" font-size="16.5" fill="#fff" textLength="78.5" lengthAdjust="spacingAndGlyphs">Скиммер</text>
<rect x="585.5" y="196.7" width="199" height="18.8" fill="#0870dc"/>
<text x="588.5" y="211.5" font-family="Liberation Sans" font-weight="bold" font-size="16.5" fill="#fff" textLength="190" lengthAdjust="spacingAndGlyphs">Форсунка подачи воды</text>
<rect x="90.9" y="387.7" width="115.7" height="18.4" fill="#0870dc"/>
<text x="93.4" y="402.09999999999997" font-family="Liberation Sans" font-weight="bold" font-size="16.5" fill="#fff" textLength="108.5" lengthAdjust="spacingAndGlyphs">Донный слив</text>
<rect x="334" y="388" width="68.5" height="18.8" fill="#0870dc"/>
<text x="337.5" y="402.8" font-family="Liberation Sans" font-weight="bold" font-size="16.5" fill="#fff" textLength="61.5" lengthAdjust="spacingAndGlyphs">Фильтр</text>
<rect x="504.9" y="352.4" width="184.1" height="18.2" fill="#0870dc"/>
<text x="507.8" y="366.59999999999997" font-family="Liberation Sans" font-weight="bold" font-size="16.5" fill="#fff" textLength="179" lengthAdjust="spacingAndGlyphs">Полуавтоматический</text>
<rect x="505" y="376" width="84" height="18.5" fill="#0870dc"/>
<text x="507.6" y="390.5" font-family="Liberation Sans" font-weight="bold" font-size="16.5" fill="#fff" textLength="77.5" lengthAdjust="spacingAndGlyphs">хлоратор</text>
<rect x="230.25" y="566.4" width="57.75" height="19.2" fill="#0870dc"/>
<text x="232.8" y="581.6" font-family="Liberation Sans" font-weight="bold" font-size="16.5" fill="#fff" textLength="52" lengthAdjust="spacingAndGlyphs">Насос</text>
<rect x="614.1" y="499.1" width="138.9" height="18.8" fill="#0870dc"/>
<text x="618.2" y="513.9" font-family="Liberation Sans" font-weight="bold" font-size="16.5" fill="#fff" textLength="132" lengthAdjust="spacingAndGlyphs">Тепловой насос</text>
<rect x="459.2" y="614.2" width="85.5" height="18.6" fill="#0870dc"/>
<text x="461.7" y="628.8000000000001" font-family="Liberation Sans" font-weight="bold" font-size="16.5" fill="#fff" textLength="79" lengthAdjust="spacingAndGlyphs">Водосток</text></svg>
</body></html>
